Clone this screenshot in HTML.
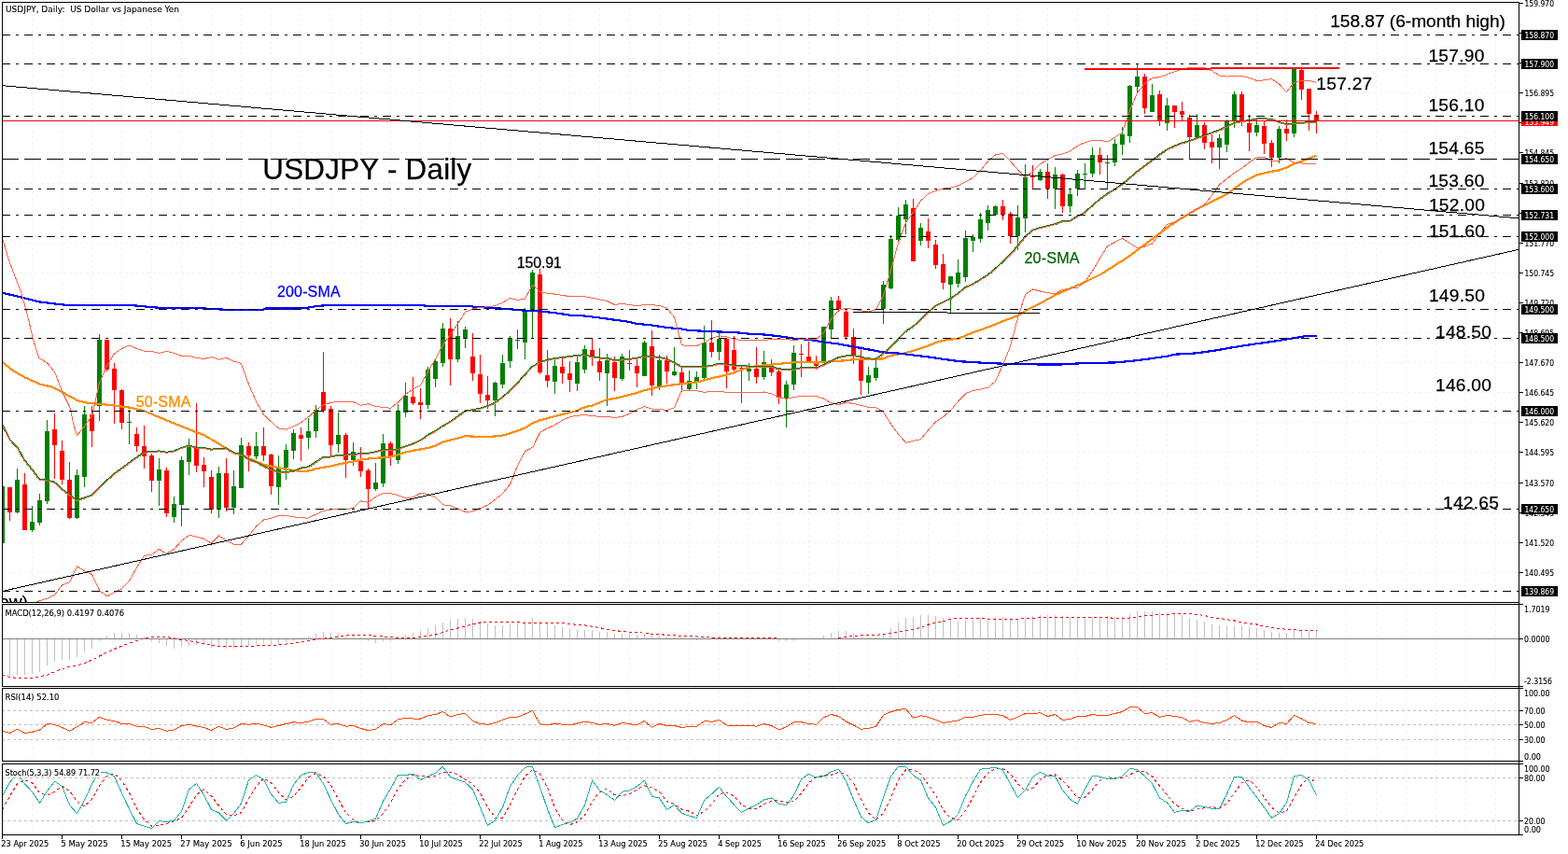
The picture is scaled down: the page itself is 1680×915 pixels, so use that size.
<!DOCTYPE html>
<html lang="en"><head><meta charset="utf-8"><title>USDJPY Daily</title>
<style>html,body{margin:0;padding:0;background:#fff}body{width:1680px;height:915px;overflow:hidden}svg text{white-space:pre}</style>
</head><body>
<svg width="1680" height="915" viewBox="0 0 1680 915" style="display:block">
<defs>
<clipPath id="cm"><rect x="3" y="3" width="1624" height="642"/></clipPath>
<clipPath id="c1"><rect x="3" y="648" width="1624" height="87"/></clipPath>
<clipPath id="c2"><rect x="3" y="738" width="1624" height="77"/></clipPath>
<clipPath id="c3"><rect x="3" y="819" width="1624" height="75"/></clipPath>
</defs>
<rect width="1680" height="915" fill="#fff"/>
<g stroke="#f2f2f2" stroke-width="1" stroke-dasharray="3 3" shape-rendering="crispEdges" fill="none">
<line x1="34.5" y1="3" x2="34.5" y2="645" stroke-dashoffset="1"/>
<line x1="34.5" y1="648" x2="34.5" y2="735" stroke-dashoffset="4"/>
<line x1="34.5" y1="738" x2="34.5" y2="815" stroke-dashoffset="4"/>
<line x1="34.5" y1="819" x2="34.5" y2="894" stroke-dashoffset="1"/>
<line x1="66.5" y1="3" x2="66.5" y2="645" stroke-dashoffset="1"/>
<line x1="66.5" y1="648" x2="66.5" y2="735" stroke-dashoffset="4"/>
<line x1="66.5" y1="738" x2="66.5" y2="815" stroke-dashoffset="4"/>
<line x1="66.5" y1="819" x2="66.5" y2="894" stroke-dashoffset="1"/>
<line x1="98.5" y1="3" x2="98.5" y2="645" stroke-dashoffset="1"/>
<line x1="98.5" y1="648" x2="98.5" y2="735" stroke-dashoffset="4"/>
<line x1="98.5" y1="738" x2="98.5" y2="815" stroke-dashoffset="4"/>
<line x1="98.5" y1="819" x2="98.5" y2="894" stroke-dashoffset="1"/>
<line x1="130.5" y1="3" x2="130.5" y2="645" stroke-dashoffset="1"/>
<line x1="130.5" y1="648" x2="130.5" y2="735" stroke-dashoffset="4"/>
<line x1="130.5" y1="738" x2="130.5" y2="815" stroke-dashoffset="4"/>
<line x1="130.5" y1="819" x2="130.5" y2="894" stroke-dashoffset="1"/>
<line x1="162.5" y1="3" x2="162.5" y2="645" stroke-dashoffset="1"/>
<line x1="162.5" y1="648" x2="162.5" y2="735" stroke-dashoffset="4"/>
<line x1="162.5" y1="738" x2="162.5" y2="815" stroke-dashoffset="4"/>
<line x1="162.5" y1="819" x2="162.5" y2="894" stroke-dashoffset="1"/>
<line x1="194.5" y1="3" x2="194.5" y2="645" stroke-dashoffset="1"/>
<line x1="194.5" y1="648" x2="194.5" y2="735" stroke-dashoffset="4"/>
<line x1="194.5" y1="738" x2="194.5" y2="815" stroke-dashoffset="4"/>
<line x1="194.5" y1="819" x2="194.5" y2="894" stroke-dashoffset="1"/>
<line x1="226.5" y1="3" x2="226.5" y2="645" stroke-dashoffset="1"/>
<line x1="226.5" y1="648" x2="226.5" y2="735" stroke-dashoffset="4"/>
<line x1="226.5" y1="738" x2="226.5" y2="815" stroke-dashoffset="4"/>
<line x1="226.5" y1="819" x2="226.5" y2="894" stroke-dashoffset="1"/>
<line x1="258.5" y1="3" x2="258.5" y2="645" stroke-dashoffset="1"/>
<line x1="258.5" y1="648" x2="258.5" y2="735" stroke-dashoffset="4"/>
<line x1="258.5" y1="738" x2="258.5" y2="815" stroke-dashoffset="4"/>
<line x1="258.5" y1="819" x2="258.5" y2="894" stroke-dashoffset="1"/>
<line x1="290.5" y1="3" x2="290.5" y2="645" stroke-dashoffset="1"/>
<line x1="290.5" y1="648" x2="290.5" y2="735" stroke-dashoffset="4"/>
<line x1="290.5" y1="738" x2="290.5" y2="815" stroke-dashoffset="4"/>
<line x1="290.5" y1="819" x2="290.5" y2="894" stroke-dashoffset="1"/>
<line x1="322.5" y1="3" x2="322.5" y2="645" stroke-dashoffset="1"/>
<line x1="322.5" y1="648" x2="322.5" y2="735" stroke-dashoffset="4"/>
<line x1="322.5" y1="738" x2="322.5" y2="815" stroke-dashoffset="4"/>
<line x1="322.5" y1="819" x2="322.5" y2="894" stroke-dashoffset="1"/>
<line x1="354.5" y1="3" x2="354.5" y2="645" stroke-dashoffset="1"/>
<line x1="354.5" y1="648" x2="354.5" y2="735" stroke-dashoffset="4"/>
<line x1="354.5" y1="738" x2="354.5" y2="815" stroke-dashoffset="4"/>
<line x1="354.5" y1="819" x2="354.5" y2="894" stroke-dashoffset="1"/>
<line x1="386.5" y1="3" x2="386.5" y2="645" stroke-dashoffset="1"/>
<line x1="386.5" y1="648" x2="386.5" y2="735" stroke-dashoffset="4"/>
<line x1="386.5" y1="738" x2="386.5" y2="815" stroke-dashoffset="4"/>
<line x1="386.5" y1="819" x2="386.5" y2="894" stroke-dashoffset="1"/>
<line x1="418.5" y1="3" x2="418.5" y2="645" stroke-dashoffset="1"/>
<line x1="418.5" y1="648" x2="418.5" y2="735" stroke-dashoffset="4"/>
<line x1="418.5" y1="738" x2="418.5" y2="815" stroke-dashoffset="4"/>
<line x1="418.5" y1="819" x2="418.5" y2="894" stroke-dashoffset="1"/>
<line x1="450.5" y1="3" x2="450.5" y2="645" stroke-dashoffset="1"/>
<line x1="450.5" y1="648" x2="450.5" y2="735" stroke-dashoffset="4"/>
<line x1="450.5" y1="738" x2="450.5" y2="815" stroke-dashoffset="4"/>
<line x1="450.5" y1="819" x2="450.5" y2="894" stroke-dashoffset="1"/>
<line x1="482.5" y1="3" x2="482.5" y2="645" stroke-dashoffset="1"/>
<line x1="482.5" y1="648" x2="482.5" y2="735" stroke-dashoffset="4"/>
<line x1="482.5" y1="738" x2="482.5" y2="815" stroke-dashoffset="4"/>
<line x1="482.5" y1="819" x2="482.5" y2="894" stroke-dashoffset="1"/>
<line x1="514.5" y1="3" x2="514.5" y2="645" stroke-dashoffset="1"/>
<line x1="514.5" y1="648" x2="514.5" y2="735" stroke-dashoffset="4"/>
<line x1="514.5" y1="738" x2="514.5" y2="815" stroke-dashoffset="4"/>
<line x1="514.5" y1="819" x2="514.5" y2="894" stroke-dashoffset="1"/>
<line x1="546.5" y1="3" x2="546.5" y2="645" stroke-dashoffset="1"/>
<line x1="546.5" y1="648" x2="546.5" y2="735" stroke-dashoffset="4"/>
<line x1="546.5" y1="738" x2="546.5" y2="815" stroke-dashoffset="4"/>
<line x1="546.5" y1="819" x2="546.5" y2="894" stroke-dashoffset="1"/>
<line x1="578.5" y1="3" x2="578.5" y2="645" stroke-dashoffset="1"/>
<line x1="578.5" y1="648" x2="578.5" y2="735" stroke-dashoffset="4"/>
<line x1="578.5" y1="738" x2="578.5" y2="815" stroke-dashoffset="4"/>
<line x1="578.5" y1="819" x2="578.5" y2="894" stroke-dashoffset="1"/>
<line x1="610.5" y1="3" x2="610.5" y2="645" stroke-dashoffset="1"/>
<line x1="610.5" y1="648" x2="610.5" y2="735" stroke-dashoffset="4"/>
<line x1="610.5" y1="738" x2="610.5" y2="815" stroke-dashoffset="4"/>
<line x1="610.5" y1="819" x2="610.5" y2="894" stroke-dashoffset="1"/>
<line x1="642.5" y1="3" x2="642.5" y2="645" stroke-dashoffset="1"/>
<line x1="642.5" y1="648" x2="642.5" y2="735" stroke-dashoffset="4"/>
<line x1="642.5" y1="738" x2="642.5" y2="815" stroke-dashoffset="4"/>
<line x1="642.5" y1="819" x2="642.5" y2="894" stroke-dashoffset="1"/>
<line x1="674.5" y1="3" x2="674.5" y2="645" stroke-dashoffset="1"/>
<line x1="674.5" y1="648" x2="674.5" y2="735" stroke-dashoffset="4"/>
<line x1="674.5" y1="738" x2="674.5" y2="815" stroke-dashoffset="4"/>
<line x1="674.5" y1="819" x2="674.5" y2="894" stroke-dashoffset="1"/>
<line x1="706.5" y1="3" x2="706.5" y2="645" stroke-dashoffset="1"/>
<line x1="706.5" y1="648" x2="706.5" y2="735" stroke-dashoffset="4"/>
<line x1="706.5" y1="738" x2="706.5" y2="815" stroke-dashoffset="4"/>
<line x1="706.5" y1="819" x2="706.5" y2="894" stroke-dashoffset="1"/>
<line x1="738.5" y1="3" x2="738.5" y2="645" stroke-dashoffset="1"/>
<line x1="738.5" y1="648" x2="738.5" y2="735" stroke-dashoffset="4"/>
<line x1="738.5" y1="738" x2="738.5" y2="815" stroke-dashoffset="4"/>
<line x1="738.5" y1="819" x2="738.5" y2="894" stroke-dashoffset="1"/>
<line x1="770.5" y1="3" x2="770.5" y2="645" stroke-dashoffset="1"/>
<line x1="770.5" y1="648" x2="770.5" y2="735" stroke-dashoffset="4"/>
<line x1="770.5" y1="738" x2="770.5" y2="815" stroke-dashoffset="4"/>
<line x1="770.5" y1="819" x2="770.5" y2="894" stroke-dashoffset="1"/>
<line x1="802.5" y1="3" x2="802.5" y2="645" stroke-dashoffset="1"/>
<line x1="802.5" y1="648" x2="802.5" y2="735" stroke-dashoffset="4"/>
<line x1="802.5" y1="738" x2="802.5" y2="815" stroke-dashoffset="4"/>
<line x1="802.5" y1="819" x2="802.5" y2="894" stroke-dashoffset="1"/>
<line x1="834.5" y1="3" x2="834.5" y2="645" stroke-dashoffset="1"/>
<line x1="834.5" y1="648" x2="834.5" y2="735" stroke-dashoffset="4"/>
<line x1="834.5" y1="738" x2="834.5" y2="815" stroke-dashoffset="4"/>
<line x1="834.5" y1="819" x2="834.5" y2="894" stroke-dashoffset="1"/>
<line x1="866.5" y1="3" x2="866.5" y2="645" stroke-dashoffset="1"/>
<line x1="866.5" y1="648" x2="866.5" y2="735" stroke-dashoffset="4"/>
<line x1="866.5" y1="738" x2="866.5" y2="815" stroke-dashoffset="4"/>
<line x1="866.5" y1="819" x2="866.5" y2="894" stroke-dashoffset="1"/>
<line x1="898.5" y1="3" x2="898.5" y2="645" stroke-dashoffset="1"/>
<line x1="898.5" y1="648" x2="898.5" y2="735" stroke-dashoffset="4"/>
<line x1="898.5" y1="738" x2="898.5" y2="815" stroke-dashoffset="4"/>
<line x1="898.5" y1="819" x2="898.5" y2="894" stroke-dashoffset="1"/>
<line x1="930.5" y1="3" x2="930.5" y2="645" stroke-dashoffset="1"/>
<line x1="930.5" y1="648" x2="930.5" y2="735" stroke-dashoffset="4"/>
<line x1="930.5" y1="738" x2="930.5" y2="815" stroke-dashoffset="4"/>
<line x1="930.5" y1="819" x2="930.5" y2="894" stroke-dashoffset="1"/>
<line x1="962.5" y1="3" x2="962.5" y2="645" stroke-dashoffset="1"/>
<line x1="962.5" y1="648" x2="962.5" y2="735" stroke-dashoffset="4"/>
<line x1="962.5" y1="738" x2="962.5" y2="815" stroke-dashoffset="4"/>
<line x1="962.5" y1="819" x2="962.5" y2="894" stroke-dashoffset="1"/>
<line x1="994.5" y1="3" x2="994.5" y2="645" stroke-dashoffset="1"/>
<line x1="994.5" y1="648" x2="994.5" y2="735" stroke-dashoffset="4"/>
<line x1="994.5" y1="738" x2="994.5" y2="815" stroke-dashoffset="4"/>
<line x1="994.5" y1="819" x2="994.5" y2="894" stroke-dashoffset="1"/>
<line x1="1026.5" y1="3" x2="1026.5" y2="645" stroke-dashoffset="1"/>
<line x1="1026.5" y1="648" x2="1026.5" y2="735" stroke-dashoffset="4"/>
<line x1="1026.5" y1="738" x2="1026.5" y2="815" stroke-dashoffset="4"/>
<line x1="1026.5" y1="819" x2="1026.5" y2="894" stroke-dashoffset="1"/>
<line x1="1058.5" y1="3" x2="1058.5" y2="645" stroke-dashoffset="1"/>
<line x1="1058.5" y1="648" x2="1058.5" y2="735" stroke-dashoffset="4"/>
<line x1="1058.5" y1="738" x2="1058.5" y2="815" stroke-dashoffset="4"/>
<line x1="1058.5" y1="819" x2="1058.5" y2="894" stroke-dashoffset="1"/>
<line x1="1090.5" y1="3" x2="1090.5" y2="645" stroke-dashoffset="1"/>
<line x1="1090.5" y1="648" x2="1090.5" y2="735" stroke-dashoffset="4"/>
<line x1="1090.5" y1="738" x2="1090.5" y2="815" stroke-dashoffset="4"/>
<line x1="1090.5" y1="819" x2="1090.5" y2="894" stroke-dashoffset="1"/>
<line x1="1122.5" y1="3" x2="1122.5" y2="645" stroke-dashoffset="1"/>
<line x1="1122.5" y1="648" x2="1122.5" y2="735" stroke-dashoffset="4"/>
<line x1="1122.5" y1="738" x2="1122.5" y2="815" stroke-dashoffset="4"/>
<line x1="1122.5" y1="819" x2="1122.5" y2="894" stroke-dashoffset="1"/>
<line x1="1154.5" y1="3" x2="1154.5" y2="645" stroke-dashoffset="1"/>
<line x1="1154.5" y1="648" x2="1154.5" y2="735" stroke-dashoffset="4"/>
<line x1="1154.5" y1="738" x2="1154.5" y2="815" stroke-dashoffset="4"/>
<line x1="1154.5" y1="819" x2="1154.5" y2="894" stroke-dashoffset="1"/>
<line x1="1186.5" y1="3" x2="1186.5" y2="645" stroke-dashoffset="1"/>
<line x1="1186.5" y1="648" x2="1186.5" y2="735" stroke-dashoffset="4"/>
<line x1="1186.5" y1="738" x2="1186.5" y2="815" stroke-dashoffset="4"/>
<line x1="1186.5" y1="819" x2="1186.5" y2="894" stroke-dashoffset="1"/>
<line x1="1218.5" y1="3" x2="1218.5" y2="645" stroke-dashoffset="1"/>
<line x1="1218.5" y1="648" x2="1218.5" y2="735" stroke-dashoffset="4"/>
<line x1="1218.5" y1="738" x2="1218.5" y2="815" stroke-dashoffset="4"/>
<line x1="1218.5" y1="819" x2="1218.5" y2="894" stroke-dashoffset="1"/>
<line x1="1250.5" y1="3" x2="1250.5" y2="645" stroke-dashoffset="1"/>
<line x1="1250.5" y1="648" x2="1250.5" y2="735" stroke-dashoffset="4"/>
<line x1="1250.5" y1="738" x2="1250.5" y2="815" stroke-dashoffset="4"/>
<line x1="1250.5" y1="819" x2="1250.5" y2="894" stroke-dashoffset="1"/>
<line x1="1282.5" y1="3" x2="1282.5" y2="645" stroke-dashoffset="1"/>
<line x1="1282.5" y1="648" x2="1282.5" y2="735" stroke-dashoffset="4"/>
<line x1="1282.5" y1="738" x2="1282.5" y2="815" stroke-dashoffset="4"/>
<line x1="1282.5" y1="819" x2="1282.5" y2="894" stroke-dashoffset="1"/>
<line x1="1314.5" y1="3" x2="1314.5" y2="645" stroke-dashoffset="1"/>
<line x1="1314.5" y1="648" x2="1314.5" y2="735" stroke-dashoffset="4"/>
<line x1="1314.5" y1="738" x2="1314.5" y2="815" stroke-dashoffset="4"/>
<line x1="1314.5" y1="819" x2="1314.5" y2="894" stroke-dashoffset="1"/>
<line x1="1346.5" y1="3" x2="1346.5" y2="645" stroke-dashoffset="1"/>
<line x1="1346.5" y1="648" x2="1346.5" y2="735" stroke-dashoffset="4"/>
<line x1="1346.5" y1="738" x2="1346.5" y2="815" stroke-dashoffset="4"/>
<line x1="1346.5" y1="819" x2="1346.5" y2="894" stroke-dashoffset="1"/>
<line x1="1378.5" y1="3" x2="1378.5" y2="645" stroke-dashoffset="1"/>
<line x1="1378.5" y1="648" x2="1378.5" y2="735" stroke-dashoffset="4"/>
<line x1="1378.5" y1="738" x2="1378.5" y2="815" stroke-dashoffset="4"/>
<line x1="1378.5" y1="819" x2="1378.5" y2="894" stroke-dashoffset="1"/>
<line x1="1410.5" y1="3" x2="1410.5" y2="645" stroke-dashoffset="1"/>
<line x1="1410.5" y1="648" x2="1410.5" y2="735" stroke-dashoffset="4"/>
<line x1="1410.5" y1="738" x2="1410.5" y2="815" stroke-dashoffset="4"/>
<line x1="1410.5" y1="819" x2="1410.5" y2="894" stroke-dashoffset="1"/>
<line x1="1442.5" y1="3" x2="1442.5" y2="645" stroke-dashoffset="1"/>
<line x1="1442.5" y1="648" x2="1442.5" y2="735" stroke-dashoffset="4"/>
<line x1="1442.5" y1="738" x2="1442.5" y2="815" stroke-dashoffset="4"/>
<line x1="1442.5" y1="819" x2="1442.5" y2="894" stroke-dashoffset="1"/>
<line x1="1474.5" y1="3" x2="1474.5" y2="645" stroke-dashoffset="1"/>
<line x1="1474.5" y1="648" x2="1474.5" y2="735" stroke-dashoffset="4"/>
<line x1="1474.5" y1="738" x2="1474.5" y2="815" stroke-dashoffset="4"/>
<line x1="1474.5" y1="819" x2="1474.5" y2="894" stroke-dashoffset="1"/>
<line x1="1506.5" y1="3" x2="1506.5" y2="645" stroke-dashoffset="1"/>
<line x1="1506.5" y1="648" x2="1506.5" y2="735" stroke-dashoffset="4"/>
<line x1="1506.5" y1="738" x2="1506.5" y2="815" stroke-dashoffset="4"/>
<line x1="1506.5" y1="819" x2="1506.5" y2="894" stroke-dashoffset="1"/>
<line x1="1538.5" y1="3" x2="1538.5" y2="645" stroke-dashoffset="1"/>
<line x1="1538.5" y1="648" x2="1538.5" y2="735" stroke-dashoffset="4"/>
<line x1="1538.5" y1="738" x2="1538.5" y2="815" stroke-dashoffset="4"/>
<line x1="1538.5" y1="819" x2="1538.5" y2="894" stroke-dashoffset="1"/>
<line x1="1570.5" y1="3" x2="1570.5" y2="645" stroke-dashoffset="1"/>
<line x1="1570.5" y1="648" x2="1570.5" y2="735" stroke-dashoffset="4"/>
<line x1="1570.5" y1="738" x2="1570.5" y2="815" stroke-dashoffset="4"/>
<line x1="1570.5" y1="819" x2="1570.5" y2="894" stroke-dashoffset="1"/>
<line x1="1602.5" y1="3" x2="1602.5" y2="645" stroke-dashoffset="1"/>
<line x1="1602.5" y1="648" x2="1602.5" y2="735" stroke-dashoffset="4"/>
<line x1="1602.5" y1="738" x2="1602.5" y2="815" stroke-dashoffset="4"/>
<line x1="1602.5" y1="819" x2="1602.5" y2="894" stroke-dashoffset="1"/>
<line x1="2" y1="35.5" x2="1627" y2="35.5"/>
<line x1="2" y1="67.5" x2="1627" y2="67.5"/>
<line x1="2" y1="99.5" x2="1627" y2="99.5"/>
<line x1="2" y1="131.5" x2="1627" y2="131.5"/>
<line x1="2" y1="163.5" x2="1627" y2="163.5"/>
<line x1="2" y1="196.5" x2="1627" y2="196.5"/>
<line x1="2" y1="228.5" x2="1627" y2="228.5"/>
<line x1="2" y1="260.5" x2="1627" y2="260.5"/>
<line x1="2" y1="292.5" x2="1627" y2="292.5"/>
<line x1="2" y1="324.5" x2="1627" y2="324.5"/>
<line x1="2" y1="356.5" x2="1627" y2="356.5"/>
<line x1="2" y1="388.5" x2="1627" y2="388.5"/>
<line x1="2" y1="420.5" x2="1627" y2="420.5"/>
<line x1="2" y1="452.5" x2="1627" y2="452.5"/>
<line x1="2" y1="484.5" x2="1627" y2="484.5"/>
<line x1="2" y1="517.5" x2="1627" y2="517.5"/>
<line x1="2" y1="549.5" x2="1627" y2="549.5"/>
<line x1="2" y1="581.5" x2="1627" y2="581.5"/>
<line x1="2" y1="613.5" x2="1627" y2="613.5"/>
</g>
<g clip-path="url(#cm)" shape-rendering="crispEdges">
<rect x="2" y="521" width="1" height="61" fill="#008000"/>
<rect x="0" y="521" width="5" height="61" fill="#008000"/>
<rect x="10" y="522" width="1" height="36" fill="#ff0000"/>
<rect x="8" y="522" width="5" height="27" fill="#ff0000"/>
<rect x="18" y="502" width="1" height="48" fill="#008000"/>
<rect x="16" y="514" width="5" height="35" fill="#008000"/>
<rect x="26" y="507" width="1" height="61" fill="#ff0000"/>
<rect x="24" y="519" width="5" height="49" fill="#ff0000"/>
<rect x="34" y="542" width="1" height="28" fill="#008000"/>
<rect x="32" y="559" width="5" height="9" fill="#008000"/>
<rect x="42" y="529" width="1" height="34" fill="#008000"/>
<rect x="40" y="536" width="5" height="24" fill="#008000"/>
<rect x="50" y="450" width="1" height="90" fill="#008000"/>
<rect x="48" y="462" width="5" height="75" fill="#008000"/>
<rect x="58" y="443" width="1" height="70" fill="#ff0000"/>
<rect x="56" y="460" width="5" height="17" fill="#ff0000"/>
<rect x="66" y="472" width="1" height="47" fill="#ff0000"/>
<rect x="64" y="483" width="5" height="31" fill="#ff0000"/>
<rect x="74" y="495" width="1" height="61" fill="#ff0000"/>
<rect x="72" y="514" width="5" height="41" fill="#ff0000"/>
<rect x="82" y="503" width="1" height="53" fill="#008000"/>
<rect x="80" y="509" width="5" height="46" fill="#008000"/>
<rect x="90" y="435" width="1" height="87" fill="#008000"/>
<rect x="88" y="444" width="5" height="67" fill="#008000"/>
<rect x="98" y="435" width="1" height="44" fill="#ff0000"/>
<rect x="96" y="444" width="5" height="18" fill="#ff0000"/>
<rect x="106" y="358" width="1" height="93" fill="#008000"/>
<rect x="104" y="364" width="5" height="71" fill="#008000"/>
<rect x="114" y="364" width="1" height="34" fill="#ff0000"/>
<rect x="112" y="364" width="5" height="32" fill="#ff0000"/>
<rect x="122" y="389" width="1" height="65" fill="#ff0000"/>
<rect x="120" y="395" width="5" height="23" fill="#ff0000"/>
<rect x="130" y="417" width="1" height="43" fill="#ff0000"/>
<rect x="128" y="418" width="5" height="35" fill="#ff0000"/>
<rect x="138" y="439" width="1" height="37" fill="#008000"/>
<rect x="136" y="452" width="5" height="1" fill="#008000"/>
<rect x="146" y="458" width="1" height="26" fill="#ff0000"/>
<rect x="144" y="465" width="5" height="13" fill="#ff0000"/>
<rect x="154" y="456" width="1" height="46" fill="#ff0000"/>
<rect x="152" y="478" width="5" height="11" fill="#ff0000"/>
<rect x="162" y="486" width="1" height="41" fill="#ff0000"/>
<rect x="160" y="488" width="5" height="27" fill="#ff0000"/>
<rect x="170" y="491" width="1" height="51" fill="#008000"/>
<rect x="168" y="503" width="5" height="12" fill="#008000"/>
<rect x="178" y="501" width="1" height="53" fill="#ff0000"/>
<rect x="176" y="504" width="5" height="46" fill="#ff0000"/>
<rect x="186" y="532" width="1" height="28" fill="#008000"/>
<rect x="184" y="540" width="5" height="14" fill="#008000"/>
<rect x="194" y="489" width="1" height="75" fill="#008000"/>
<rect x="192" y="493" width="5" height="48" fill="#008000"/>
<rect x="202" y="470" width="1" height="39" fill="#008000"/>
<rect x="200" y="477" width="5" height="18" fill="#008000"/>
<rect x="210" y="432" width="1" height="74" fill="#ff0000"/>
<rect x="208" y="480" width="5" height="19" fill="#ff0000"/>
<rect x="218" y="490" width="1" height="32" fill="#ff0000"/>
<rect x="216" y="498" width="5" height="7" fill="#ff0000"/>
<rect x="226" y="504" width="1" height="46" fill="#ff0000"/>
<rect x="224" y="511" width="5" height="35" fill="#ff0000"/>
<rect x="234" y="500" width="1" height="55" fill="#008000"/>
<rect x="232" y="507" width="5" height="39" fill="#008000"/>
<rect x="242" y="491" width="1" height="57" fill="#ff0000"/>
<rect x="240" y="507" width="5" height="37" fill="#ff0000"/>
<rect x="250" y="504" width="1" height="47" fill="#008000"/>
<rect x="248" y="521" width="5" height="23" fill="#008000"/>
<rect x="258" y="469" width="1" height="54" fill="#008000"/>
<rect x="256" y="477" width="5" height="46" fill="#008000"/>
<rect x="266" y="474" width="1" height="31" fill="#ff0000"/>
<rect x="264" y="478" width="5" height="10" fill="#ff0000"/>
<rect x="274" y="463" width="1" height="29" fill="#008000"/>
<rect x="272" y="478" width="5" height="11" fill="#008000"/>
<rect x="282" y="458" width="1" height="36" fill="#ff0000"/>
<rect x="280" y="478" width="5" height="10" fill="#ff0000"/>
<rect x="290" y="486" width="1" height="44" fill="#ff0000"/>
<rect x="288" y="487" width="5" height="34" fill="#ff0000"/>
<rect x="298" y="488" width="1" height="53" fill="#008000"/>
<rect x="296" y="501" width="5" height="21" fill="#008000"/>
<rect x="306" y="476" width="1" height="38" fill="#008000"/>
<rect x="304" y="482" width="5" height="19" fill="#008000"/>
<rect x="314" y="460" width="1" height="32" fill="#008000"/>
<rect x="312" y="464" width="5" height="19" fill="#008000"/>
<rect x="322" y="458" width="1" height="36" fill="#ff0000"/>
<rect x="320" y="466" width="5" height="4" fill="#ff0000"/>
<rect x="330" y="448" width="1" height="33" fill="#008000"/>
<rect x="328" y="462" width="5" height="7" fill="#008000"/>
<rect x="338" y="434" width="1" height="35" fill="#008000"/>
<rect x="336" y="439" width="5" height="23" fill="#008000"/>
<rect x="346" y="377" width="1" height="65" fill="#ff0000"/>
<rect x="344" y="420" width="5" height="20" fill="#ff0000"/>
<rect x="354" y="435" width="1" height="54" fill="#ff0000"/>
<rect x="352" y="438" width="5" height="39" fill="#ff0000"/>
<rect x="362" y="442" width="1" height="43" fill="#008000"/>
<rect x="360" y="466" width="5" height="10" fill="#008000"/>
<rect x="370" y="464" width="1" height="48" fill="#ff0000"/>
<rect x="368" y="466" width="5" height="27" fill="#ff0000"/>
<rect x="378" y="474" width="1" height="25" fill="#008000"/>
<rect x="376" y="484" width="5" height="9" fill="#008000"/>
<rect x="386" y="479" width="1" height="32" fill="#ff0000"/>
<rect x="384" y="494" width="5" height="11" fill="#ff0000"/>
<rect x="394" y="502" width="1" height="43" fill="#ff0000"/>
<rect x="392" y="504" width="5" height="20" fill="#ff0000"/>
<rect x="402" y="496" width="1" height="30" fill="#008000"/>
<rect x="400" y="517" width="5" height="7" fill="#008000"/>
<rect x="410" y="465" width="1" height="57" fill="#008000"/>
<rect x="408" y="475" width="5" height="43" fill="#008000"/>
<rect x="418" y="473" width="1" height="26" fill="#ff0000"/>
<rect x="416" y="475" width="5" height="15" fill="#ff0000"/>
<rect x="426" y="433" width="1" height="64" fill="#008000"/>
<rect x="424" y="440" width="5" height="53" fill="#008000"/>
<rect x="434" y="410" width="1" height="37" fill="#008000"/>
<rect x="432" y="424" width="5" height="18" fill="#008000"/>
<rect x="442" y="404" width="1" height="30" fill="#ff0000"/>
<rect x="440" y="425" width="5" height="7" fill="#ff0000"/>
<rect x="450" y="416" width="1" height="33" fill="#ff0000"/>
<rect x="448" y="431" width="5" height="3" fill="#ff0000"/>
<rect x="458" y="393" width="1" height="45" fill="#008000"/>
<rect x="456" y="396" width="5" height="38" fill="#008000"/>
<rect x="466" y="384" width="1" height="31" fill="#008000"/>
<rect x="464" y="387" width="5" height="19" fill="#008000"/>
<rect x="474" y="346" width="1" height="47" fill="#008000"/>
<rect x="472" y="352" width="5" height="37" fill="#008000"/>
<rect x="482" y="341" width="1" height="72" fill="#ff0000"/>
<rect x="480" y="352" width="5" height="33" fill="#ff0000"/>
<rect x="490" y="344" width="1" height="44" fill="#008000"/>
<rect x="488" y="360" width="5" height="25" fill="#008000"/>
<rect x="498" y="350" width="1" height="23" fill="#008000"/>
<rect x="496" y="353" width="5" height="10" fill="#008000"/>
<rect x="506" y="357" width="1" height="51" fill="#ff0000"/>
<rect x="504" y="382" width="5" height="18" fill="#ff0000"/>
<rect x="514" y="380" width="1" height="52" fill="#ff0000"/>
<rect x="512" y="401" width="5" height="21" fill="#ff0000"/>
<rect x="522" y="403" width="1" height="35" fill="#ff0000"/>
<rect x="520" y="423" width="5" height="6" fill="#ff0000"/>
<rect x="530" y="409" width="1" height="37" fill="#008000"/>
<rect x="528" y="410" width="5" height="19" fill="#008000"/>
<rect x="538" y="380" width="1" height="36" fill="#008000"/>
<rect x="536" y="389" width="5" height="23" fill="#008000"/>
<rect x="546" y="360" width="1" height="34" fill="#008000"/>
<rect x="544" y="362" width="5" height="25" fill="#008000"/>
<rect x="554" y="353" width="1" height="21" fill="#008000"/>
<rect x="552" y="364" width="5" height="1" fill="#008000"/>
<rect x="562" y="330" width="1" height="55" fill="#008000"/>
<rect x="560" y="333" width="5" height="34" fill="#008000"/>
<rect x="570" y="289" width="1" height="73" fill="#008000"/>
<rect x="568" y="292" width="5" height="40" fill="#008000"/>
<rect x="578" y="288" width="1" height="113" fill="#ff0000"/>
<rect x="576" y="294" width="5" height="105" fill="#ff0000"/>
<rect x="586" y="375" width="1" height="40" fill="#ff0000"/>
<rect x="584" y="402" width="5" height="6" fill="#ff0000"/>
<rect x="594" y="385" width="1" height="37" fill="#008000"/>
<rect x="592" y="392" width="5" height="17" fill="#008000"/>
<rect x="602" y="384" width="1" height="27" fill="#ff0000"/>
<rect x="600" y="393" width="5" height="7" fill="#ff0000"/>
<rect x="610" y="387" width="1" height="33" fill="#ff0000"/>
<rect x="608" y="400" width="5" height="7" fill="#ff0000"/>
<rect x="618" y="382" width="1" height="37" fill="#008000"/>
<rect x="616" y="388" width="5" height="23" fill="#008000"/>
<rect x="626" y="370" width="1" height="30" fill="#008000"/>
<rect x="624" y="374" width="5" height="22" fill="#008000"/>
<rect x="634" y="363" width="1" height="29" fill="#ff0000"/>
<rect x="632" y="375" width="5" height="7" fill="#ff0000"/>
<rect x="642" y="373" width="1" height="35" fill="#ff0000"/>
<rect x="640" y="387" width="5" height="12" fill="#ff0000"/>
<rect x="650" y="379" width="1" height="56" fill="#008000"/>
<rect x="648" y="386" width="5" height="14" fill="#008000"/>
<rect x="658" y="382" width="1" height="37" fill="#ff0000"/>
<rect x="656" y="388" width="5" height="17" fill="#ff0000"/>
<rect x="666" y="379" width="1" height="29" fill="#008000"/>
<rect x="664" y="382" width="5" height="24" fill="#008000"/>
<rect x="674" y="375" width="1" height="22" fill="#ff0000"/>
<rect x="672" y="389" width="5" height="1" fill="#ff0000"/>
<rect x="682" y="385" width="1" height="30" fill="#ff0000"/>
<rect x="680" y="392" width="5" height="8" fill="#ff0000"/>
<rect x="690" y="365" width="1" height="38" fill="#008000"/>
<rect x="688" y="367" width="5" height="36" fill="#008000"/>
<rect x="698" y="354" width="1" height="70" fill="#ff0000"/>
<rect x="696" y="371" width="5" height="42" fill="#ff0000"/>
<rect x="706" y="380" width="1" height="38" fill="#008000"/>
<rect x="704" y="386" width="5" height="29" fill="#008000"/>
<rect x="714" y="381" width="1" height="30" fill="#ff0000"/>
<rect x="712" y="386" width="5" height="12" fill="#ff0000"/>
<rect x="722" y="372" width="1" height="31" fill="#008000"/>
<rect x="720" y="398" width="5" height="4" fill="#008000"/>
<rect x="730" y="394" width="1" height="26" fill="#ff0000"/>
<rect x="728" y="399" width="5" height="11" fill="#ff0000"/>
<rect x="738" y="397" width="1" height="21" fill="#008000"/>
<rect x="736" y="408" width="5" height="9" fill="#008000"/>
<rect x="746" y="398" width="1" height="19" fill="#008000"/>
<rect x="744" y="404" width="5" height="5" fill="#008000"/>
<rect x="754" y="349" width="1" height="57" fill="#008000"/>
<rect x="752" y="367" width="5" height="38" fill="#008000"/>
<rect x="762" y="343" width="1" height="40" fill="#ff0000"/>
<rect x="760" y="367" width="5" height="10" fill="#ff0000"/>
<rect x="770" y="354" width="1" height="32" fill="#008000"/>
<rect x="768" y="363" width="5" height="14" fill="#008000"/>
<rect x="778" y="363" width="1" height="53" fill="#ff0000"/>
<rect x="776" y="363" width="5" height="35" fill="#ff0000"/>
<rect x="786" y="360" width="1" height="38" fill="#ff0000"/>
<rect x="784" y="375" width="5" height="21" fill="#ff0000"/>
<rect x="794" y="393" width="1" height="39" fill="#ff0000"/>
<rect x="792" y="394" width="5" height="1" fill="#ff0000"/>
<rect x="802" y="389" width="1" height="19" fill="#008000"/>
<rect x="800" y="395" width="5" height="3" fill="#008000"/>
<rect x="810" y="372" width="1" height="39" fill="#ff0000"/>
<rect x="808" y="395" width="5" height="9" fill="#ff0000"/>
<rect x="818" y="376" width="1" height="31" fill="#008000"/>
<rect x="816" y="388" width="5" height="16" fill="#008000"/>
<rect x="826" y="385" width="1" height="18" fill="#ff0000"/>
<rect x="824" y="392" width="5" height="7" fill="#ff0000"/>
<rect x="834" y="395" width="1" height="38" fill="#ff0000"/>
<rect x="832" y="398" width="5" height="28" fill="#ff0000"/>
<rect x="842" y="408" width="1" height="50" fill="#008000"/>
<rect x="840" y="412" width="5" height="15" fill="#008000"/>
<rect x="850" y="370" width="1" height="48" fill="#008000"/>
<rect x="848" y="378" width="5" height="34" fill="#008000"/>
<rect x="858" y="369" width="1" height="35" fill="#ff0000"/>
<rect x="856" y="379" width="5" height="1" fill="#ff0000"/>
<rect x="866" y="366" width="1" height="22" fill="#ff0000"/>
<rect x="864" y="382" width="5" height="6" fill="#ff0000"/>
<rect x="874" y="381" width="1" height="15" fill="#ff0000"/>
<rect x="872" y="390" width="5" height="2" fill="#ff0000"/>
<rect x="882" y="350" width="1" height="38" fill="#008000"/>
<rect x="880" y="350" width="5" height="38" fill="#008000"/>
<rect x="890" y="318" width="1" height="44" fill="#008000"/>
<rect x="888" y="322" width="5" height="31" fill="#008000"/>
<rect x="898" y="317" width="1" height="17" fill="#ff0000"/>
<rect x="896" y="322" width="5" height="9" fill="#ff0000"/>
<rect x="906" y="331" width="1" height="33" fill="#ff0000"/>
<rect x="904" y="334" width="5" height="27" fill="#ff0000"/>
<rect x="914" y="352" width="1" height="38" fill="#ff0000"/>
<rect x="912" y="361" width="5" height="20" fill="#ff0000"/>
<rect x="922" y="371" width="1" height="52" fill="#ff0000"/>
<rect x="920" y="384" width="5" height="24" fill="#ff0000"/>
<rect x="930" y="393" width="1" height="29" fill="#008000"/>
<rect x="928" y="402" width="5" height="8" fill="#008000"/>
<rect x="938" y="386" width="1" height="22" fill="#008000"/>
<rect x="936" y="394" width="5" height="11" fill="#008000"/>
<rect x="946" y="301" width="1" height="46" fill="#008000"/>
<rect x="944" y="305" width="5" height="26" fill="#008000"/>
<rect x="954" y="252" width="1" height="58" fill="#008000"/>
<rect x="952" y="256" width="5" height="53" fill="#008000"/>
<rect x="962" y="222" width="1" height="40" fill="#008000"/>
<rect x="960" y="231" width="5" height="26" fill="#008000"/>
<rect x="970" y="214" width="1" height="37" fill="#008000"/>
<rect x="968" y="219" width="5" height="16" fill="#008000"/>
<rect x="978" y="213" width="1" height="67" fill="#ff0000"/>
<rect x="976" y="223" width="5" height="57" fill="#ff0000"/>
<rect x="986" y="239" width="1" height="24" fill="#008000"/>
<rect x="984" y="244" width="5" height="14" fill="#008000"/>
<rect x="994" y="234" width="1" height="32" fill="#ff0000"/>
<rect x="992" y="248" width="5" height="10" fill="#ff0000"/>
<rect x="1002" y="257" width="1" height="31" fill="#ff0000"/>
<rect x="1000" y="262" width="5" height="22" fill="#ff0000"/>
<rect x="1010" y="272" width="1" height="38" fill="#ff0000"/>
<rect x="1008" y="283" width="5" height="20" fill="#ff0000"/>
<rect x="1018" y="296" width="1" height="39" fill="#008000"/>
<rect x="1016" y="296" width="5" height="9" fill="#008000"/>
<rect x="1026" y="278" width="1" height="30" fill="#008000"/>
<rect x="1024" y="292" width="5" height="12" fill="#008000"/>
<rect x="1034" y="247" width="1" height="55" fill="#008000"/>
<rect x="1032" y="255" width="5" height="42" fill="#008000"/>
<rect x="1042" y="251" width="1" height="19" fill="#008000"/>
<rect x="1040" y="254" width="5" height="4" fill="#008000"/>
<rect x="1050" y="228" width="1" height="32" fill="#008000"/>
<rect x="1048" y="235" width="5" height="21" fill="#008000"/>
<rect x="1058" y="220" width="1" height="27" fill="#008000"/>
<rect x="1056" y="225" width="5" height="14" fill="#008000"/>
<rect x="1066" y="220" width="1" height="10" fill="#008000"/>
<rect x="1064" y="221" width="5" height="9" fill="#008000"/>
<rect x="1074" y="214" width="1" height="22" fill="#ff0000"/>
<rect x="1072" y="221" width="5" height="9" fill="#ff0000"/>
<rect x="1082" y="227" width="1" height="34" fill="#ff0000"/>
<rect x="1080" y="229" width="5" height="24" fill="#ff0000"/>
<rect x="1090" y="220" width="1" height="48" fill="#008000"/>
<rect x="1088" y="233" width="5" height="20" fill="#008000"/>
<rect x="1098" y="176" width="1" height="73" fill="#008000"/>
<rect x="1096" y="190" width="5" height="44" fill="#008000"/>
<rect x="1106" y="177" width="1" height="25" fill="#ff0000"/>
<rect x="1104" y="188" width="5" height="2" fill="#ff0000"/>
<rect x="1114" y="181" width="1" height="13" fill="#008000"/>
<rect x="1112" y="184" width="5" height="9" fill="#008000"/>
<rect x="1122" y="175" width="1" height="38" fill="#ff0000"/>
<rect x="1120" y="184" width="5" height="18" fill="#ff0000"/>
<rect x="1130" y="179" width="1" height="45" fill="#008000"/>
<rect x="1128" y="187" width="5" height="15" fill="#008000"/>
<rect x="1138" y="186" width="1" height="42" fill="#ff0000"/>
<rect x="1136" y="187" width="5" height="34" fill="#ff0000"/>
<rect x="1146" y="202" width="1" height="26" fill="#008000"/>
<rect x="1144" y="208" width="5" height="13" fill="#008000"/>
<rect x="1154" y="182" width="1" height="28" fill="#008000"/>
<rect x="1152" y="186" width="5" height="16" fill="#008000"/>
<rect x="1162" y="175" width="1" height="27" fill="#008000"/>
<rect x="1160" y="186" width="5" height="1" fill="#008000"/>
<rect x="1170" y="158" width="1" height="32" fill="#008000"/>
<rect x="1168" y="166" width="5" height="20" fill="#008000"/>
<rect x="1178" y="158" width="1" height="29" fill="#ff0000"/>
<rect x="1176" y="166" width="5" height="8" fill="#ff0000"/>
<rect x="1186" y="166" width="1" height="36" fill="#008000"/>
<rect x="1184" y="174" width="5" height="1" fill="#008000"/>
<rect x="1194" y="149" width="1" height="29" fill="#008000"/>
<rect x="1192" y="154" width="5" height="20" fill="#008000"/>
<rect x="1202" y="136" width="1" height="30" fill="#008000"/>
<rect x="1200" y="144" width="5" height="11" fill="#008000"/>
<rect x="1210" y="91" width="1" height="62" fill="#008000"/>
<rect x="1208" y="92" width="5" height="54" fill="#008000"/>
<rect x="1218" y="68" width="1" height="33" fill="#008000"/>
<rect x="1216" y="82" width="5" height="11" fill="#008000"/>
<rect x="1226" y="79" width="1" height="43" fill="#ff0000"/>
<rect x="1224" y="82" width="5" height="34" fill="#ff0000"/>
<rect x="1234" y="90" width="1" height="30" fill="#008000"/>
<rect x="1232" y="102" width="5" height="18" fill="#008000"/>
<rect x="1242" y="97" width="1" height="38" fill="#ff0000"/>
<rect x="1240" y="101" width="5" height="28" fill="#ff0000"/>
<rect x="1250" y="105" width="1" height="35" fill="#008000"/>
<rect x="1248" y="113" width="5" height="19" fill="#008000"/>
<rect x="1258" y="113" width="1" height="24" fill="#ff0000"/>
<rect x="1256" y="113" width="5" height="7" fill="#ff0000"/>
<rect x="1266" y="109" width="1" height="20" fill="#ff0000"/>
<rect x="1264" y="119" width="5" height="4" fill="#ff0000"/>
<rect x="1274" y="123" width="1" height="47" fill="#ff0000"/>
<rect x="1272" y="126" width="5" height="21" fill="#ff0000"/>
<rect x="1282" y="122" width="1" height="26" fill="#008000"/>
<rect x="1280" y="134" width="5" height="13" fill="#008000"/>
<rect x="1290" y="131" width="1" height="29" fill="#ff0000"/>
<rect x="1288" y="134" width="5" height="19" fill="#ff0000"/>
<rect x="1298" y="144" width="1" height="31" fill="#ff0000"/>
<rect x="1296" y="152" width="5" height="6" fill="#ff0000"/>
<rect x="1306" y="144" width="1" height="37" fill="#008000"/>
<rect x="1304" y="148" width="5" height="10" fill="#008000"/>
<rect x="1314" y="128" width="1" height="35" fill="#008000"/>
<rect x="1312" y="130" width="5" height="25" fill="#008000"/>
<rect x="1322" y="98" width="1" height="39" fill="#008000"/>
<rect x="1320" y="101" width="5" height="29" fill="#008000"/>
<rect x="1330" y="98" width="1" height="37" fill="#ff0000"/>
<rect x="1328" y="101" width="5" height="29" fill="#ff0000"/>
<rect x="1338" y="123" width="1" height="39" fill="#ff0000"/>
<rect x="1336" y="132" width="5" height="10" fill="#ff0000"/>
<rect x="1346" y="127" width="1" height="19" fill="#008000"/>
<rect x="1344" y="134" width="5" height="8" fill="#008000"/>
<rect x="1354" y="129" width="1" height="36" fill="#ff0000"/>
<rect x="1352" y="135" width="5" height="19" fill="#ff0000"/>
<rect x="1362" y="150" width="1" height="29" fill="#ff0000"/>
<rect x="1360" y="153" width="5" height="16" fill="#ff0000"/>
<rect x="1370" y="135" width="1" height="40" fill="#008000"/>
<rect x="1368" y="138" width="5" height="31" fill="#008000"/>
<rect x="1378" y="128" width="1" height="23" fill="#ff0000"/>
<rect x="1376" y="138" width="5" height="5" fill="#ff0000"/>
<rect x="1386" y="73" width="1" height="74" fill="#008000"/>
<rect x="1384" y="74" width="5" height="69" fill="#008000"/>
<rect x="1394" y="73" width="1" height="34" fill="#ff0000"/>
<rect x="1392" y="75" width="5" height="21" fill="#ff0000"/>
<rect x="1402" y="95" width="1" height="45" fill="#ff0000"/>
<rect x="1400" y="95" width="5" height="27" fill="#ff0000"/>
<rect x="1410" y="119" width="1" height="24" fill="#ff0000"/>
<rect x="1408" y="123" width="5" height="6" fill="#ff0000"/>
</g>
<g clip-path="url(#cm)" fill="none" stroke-linejoin="round" shape-rendering="crispEdges">
<polyline points="2.5,388.0 13.4,396.8 26.7,404.4 43.5,411.9 55.2,414.4 66.9,420.2 75.2,424.9 83.6,429.4 93.6,431.9 106.5,432.8 122.5,434.5 138.4,436.6 154.5,440.3 170.5,447.0 186.6,453.7 202.4,460.0 218.5,466.2 234.5,475.4 242.4,480.4 250.8,485.4 258.4,487.0 266.5,490.9 274.5,494.5 282.5,497.8 290.6,499.5 298.4,501.2 306.4,502.8 314.5,504.0 322.5,505.0 330.5,504.5 338.5,502.3 346.6,500.7 354.6,499.5 362.4,497.5 370.5,495.8 378.5,494.5 386.5,492.5 394.5,491.5 402.6,490.8 410.4,490.3 418.4,489.5 426.5,487.3 434.5,484.5 442.5,482.8 450.5,481.4 458.6,480.0 466.6,477.4 474.6,473.6 482.6,471.6 490.7,469.5 498.5,467.2 506.5,467.6 514.6,467.9 522.6,467.9 530.6,467.5 538.6,466.5 546.7,464.3 554.6,461.5 562.6,458.4 570.7,453.4 578.7,450.1 586.7,448.1 594.7,445.9 602.8,443.9 610.5,442.0 618.8,439.8 627.2,436.0 634.7,434.4 642.2,431.5 650.6,428.0 658.2,427.2 666.7,425.0 675.0,423.0 683.3,420.7 691.7,417.9 700.0,415.8 708.3,414.4 716.7,412.9 725.0,412.0 730.5,411.1 746.4,409.5 762.5,405.3 778.5,401.6 786.5,399.4 794.4,396.1 802.4,393.6 810.4,392.2 818.5,391.4 834.5,389.9 850.6,388.2 866.6,388.2 874.6,388.6 882.5,388.2 890.5,387.2 898.5,386.9 906.6,386.1 914.4,385.2 922.4,384.7 930.5,384.7 938.5,384.7 946.5,384.4 954.5,381.0 962.4,379.4 970.4,378.2 978.4,376.0 986.5,373.2 994.5,370.5 1002.6,367.1 1015.1,363.9 1026.4,362.9 1040.3,357.1 1057.9,350.8 1075.4,343.8 1090.5,338.2 1100.6,331.9 1115.7,324.4 1130.7,316.1 1145.8,309.3 1163.4,301.8 1181.0,293.0 1198.6,281.7 1208.6,275.4 1223.7,264.1 1238.8,252.8 1253.9,241.5 1269.0,231.9 1284.0,223.1 1299.1,215.6 1307.3,211.5 1314.5,207.9 1322.5,202.1 1330.5,196.2 1338.5,191.4 1346.5,187.5 1354.5,185.4 1362.5,183.8 1370.5,182.4 1378.4,179.5 1386.4,175.7 1394.5,172.9 1402.5,169.5 1410.5,166.7" stroke="#ff8c00" stroke-width="2.2"/>
<polyline points="2.5,313.7 10.0,315.5 22.6,318.5 42.7,323.5 59.1,325.5 75.4,327.3 90.5,326.8 138.2,326.8 155.8,328.5 170.9,329.8 186.0,330.5 203.6,329.8 218.6,330.5 242.5,331.8 281.5,331.8 284.0,330.5 314.2,330.5 329.2,329.8 339.3,328.0 354.4,326.8 420.0,326.8 450.0,326.8 458.4,328.0 505.2,328.0 507.7,329.0 516.9,329.3 547.0,331.3 562.5,332.7 578.6,333.5 594.4,335.2 610.5,337.7 626.5,338.5 642.6,340.5 658.5,342.7 674.5,344.9 682.5,346.9 698.6,348.5 714.5,351.0 730.0,352.4 736.7,353.8 754.4,354.8 770.5,355.5 786.5,356.0 802.4,357.6 818.5,358.5 834.5,360.2 850.6,362.7 866.6,363.8 882.5,366.5 898.5,368.5 914.4,371.5 930.5,374.4 946.5,377.4 962.4,378.5 978.4,380.5 990.0,381.8 1010.1,384.7 1027.7,387.2 1057.9,389.0 1075.4,389.7 1115.7,390.5 1135.8,390.5 1163.4,389.0 1193.6,388.5 1208.6,387.2 1226.2,385.2 1251.4,381.5 1258.9,379.7 1281.5,378.4 1304.2,375.2 1316.7,372.9 1341.8,368.9 1367.0,365.4 1392.1,361.3 1402.2,359.6 1410.5,359.6" stroke="#0000ff" stroke-width="2.2"/>
<polyline points="2.5,455.5 10.5,471.0 18.4,479.2 26.4,493.4 34.4,503.4 42.5,513.8 50.5,514.3 58.3,516.8 66.5,524.3 74.4,530.2 82.4,536.4 90.4,533.5 98.5,530.5 106.5,522.7 114.5,514.8 122.5,507.6 130.6,501.8 138.4,495.9 146.4,490.1 154.5,484.7 162.5,484.2 170.5,483.4 178.5,484.7 186.6,483.4 194.4,480.0 202.4,477.5 210.5,479.7 218.5,480.0 226.5,481.7 234.5,480.9 242.4,480.4 250.4,485.4 258.4,486.7 266.5,492.6 274.5,495.3 282.5,499.5 290.6,503.3 298.4,505.7 306.4,505.7 314.5,505.3 322.5,501.7 330.5,500.3 338.5,495.0 346.6,489.8 354.6,489.5 362.4,487.8 370.5,487.5 378.5,487.3 386.5,485.8 394.5,485.8 402.6,484.1 410.4,482.3 418.4,482.3 426.5,481.1 434.5,478.3 442.5,475.6 450.5,471.9 458.6,466.1 466.6,461.9 474.6,456.5 482.6,451.9 490.7,446.0 498.5,440.5 506.5,439.3 514.6,437.6 522.6,435.1 530.6,431.5 538.6,425.6 546.7,418.2 554.5,410.4 562.5,401.2 570.5,392.8 578.6,388.3 586.6,385.7 594.4,384.0 602.5,383.1 610.5,382.0 618.5,380.8 626.5,380.3 634.6,382.3 642.6,383.6 650.6,384.0 658.5,386.2 666.5,385.3 674.5,385.0 682.5,383.6 690.6,381.6 698.6,382.3 706.6,382.8 714.5,385.0 722.5,388.8 730.5,393.3 738.6,393.3 746.4,393.3 754.4,393.1 762.5,391.9 770.5,389.7 778.5,390.6 786.5,391.6 794.4,391.6 802.4,392.7 810.4,392.7 818.5,392.7 826.5,393.1 834.5,395.3 842.5,396.1 850.6,395.8 858.6,394.1 866.6,393.6 874.6,394.4 882.5,391.1 890.5,386.9 898.5,383.1 906.6,381.4 914.4,381.0 922.4,382.7 930.5,384.4 938.5,384.7 946.5,378.9 954.5,371.5 962.4,363.2 970.4,355.1 978.4,349.8 986.5,342.8 994.5,334.5 1002.4,327.9 1010.4,323.7 1018.4,320.1 1026.5,314.5 1034.5,307.9 1042.5,304.5 1050.5,299.5 1058.6,294.5 1066.6,287.8 1074.4,280.3 1082.5,272.7 1090.5,263.6 1098.5,253.5 1106.5,246.8 1114.6,244.0 1122.6,242.2 1130.6,240.2 1138.5,237.1 1146.5,236.8 1154.5,231.8 1162.5,227.6 1170.6,220.1 1178.6,213.4 1186.6,207.6 1194.5,203.0 1202.5,197.3 1210.5,190.8 1218.6,183.7 1226.6,177.9 1234.4,172.0 1242.5,165.7 1250.5,160.3 1258.5,156.5 1266.5,153.3 1274.6,151.1 1282.6,148.1 1290.6,145.3 1298.5,142.2 1306.5,139.4 1314.5,135.6 1322.5,131.8 1330.6,130.2 1338.6,128.9 1346.6,127.4 1354.5,127.4 1362.5,127.8 1370.5,131.0 1378.4,133.2 1386.4,132.2 1394.5,131.6 1402.5,131.4 1410.5,131.4" stroke="#008000" stroke-width="2"/>
<polyline points="2.5,456.0 10.5,471.5 18.4,479.7 26.4,493.9 34.4,503.9 42.5,514.3 50.5,514.8 58.3,517.3 66.5,524.8 74.4,530.7 82.4,536.9 90.4,534.0 98.5,531.0 106.5,523.2 114.5,515.3 122.5,508.1 130.6,502.3 138.4,496.4 146.4,490.6 154.5,485.2 162.5,484.7 170.5,483.9 178.5,485.2 186.6,483.9 194.4,480.5 202.4,478.0 210.5,480.2 218.5,480.5 226.5,482.2 234.5,481.4 242.4,480.9 250.4,485.9 258.4,487.2 266.5,493.1 274.5,495.8 282.5,500.0 290.6,503.8 298.4,506.2 306.4,506.2 314.5,505.8 322.5,502.2 330.5,500.8 338.5,495.5 346.6,490.3 354.6,490.0 362.4,488.3 370.5,488.0 378.5,487.8 386.5,486.3 394.5,486.3 402.6,484.6 410.4,482.8 418.4,482.8 426.5,481.6 434.5,478.8 442.5,476.1 450.5,472.4 458.6,466.6 466.6,462.4 474.6,457.0 482.6,452.4 490.7,446.5 498.5,441.0 506.5,439.8 514.6,438.1 522.6,435.6 530.6,432.0 538.6,426.1 546.7,418.7 554.5,410.9 562.5,401.7 570.5,393.3 578.6,388.8 586.6,386.2 594.4,384.5 602.5,383.6 610.5,382.5 618.5,381.3 626.5,380.8 634.6,382.8 642.6,384.1 650.6,384.5 658.5,386.7 666.5,385.8 674.5,385.5 682.5,384.1 690.6,382.1 698.6,382.8 706.6,383.3 714.5,385.5 722.5,389.3 730.5,393.8 738.6,393.8 746.4,393.8 754.4,393.6 762.5,392.4 770.5,390.2 778.5,391.1 786.5,392.1 794.4,392.1 802.4,393.2 810.4,393.2 818.5,393.2 826.5,393.6 834.5,395.8 842.5,396.6 850.6,396.3 858.6,394.6 866.6,394.1 874.6,394.9 882.5,391.6 890.5,387.4 898.5,383.6 906.6,381.9 914.4,381.5 922.4,383.2 930.5,384.9 938.5,385.2 946.5,379.4 954.5,372.0 962.4,363.7 970.4,355.6 978.4,350.3 986.5,343.3 994.5,335.0 1002.4,328.4 1010.4,324.2 1018.4,320.6 1026.5,315.0 1034.5,308.4 1042.5,305.0 1050.5,300.0 1058.6,295.0 1066.6,288.3 1074.4,280.8 1082.5,273.2 1090.5,264.1 1098.5,254.0 1106.5,247.3 1114.6,244.5 1122.6,242.7 1130.6,240.7 1138.5,237.6 1146.5,237.3 1154.5,232.3 1162.5,228.1 1170.6,220.6 1178.6,213.9 1186.6,208.1 1194.5,203.5 1202.5,197.8 1210.5,191.3 1218.6,184.2 1226.6,178.4 1234.4,172.5 1242.5,166.2 1250.5,160.8 1258.5,157.0 1266.5,153.8 1274.6,151.6 1282.6,148.6 1290.6,145.8 1298.5,142.7 1306.5,139.9 1314.5,136.1 1322.5,132.3 1330.6,130.7 1338.6,129.4 1346.6,127.9 1354.5,127.9 1362.5,128.3 1370.5,131.5 1378.4,133.7 1386.4,132.7 1394.5,132.1 1402.5,131.9 1410.5,131.9" stroke="#ff6347" stroke-width="1"/>
<polyline points="2.5,255.1 10.0,280.3 22.6,312.9 30.1,340.0 35.4,363.4 41.8,383.8 50.2,388.5 58.5,398.5 66.9,420.2 75.2,437.0 78.6,453.7 82.4,466.5 90.3,457.0 98.6,445.3 106.5,410.2 114.5,391.8 122.5,378.8 130.6,373.4 138.4,370.1 146.4,373.4 154.5,376.3 162.5,376.3 170.5,378.4 178.5,376.3 186.6,378.4 194.4,381.3 202.4,381.3 210.5,383.5 218.5,384.5 226.5,382.6 234.5,385.1 242.4,383.5 250.4,387.1 258.4,389.3 266.5,411.9 274.5,430.1 282.5,444.3 290.6,451.9 298.4,458.9 306.4,460.2 314.5,456.9 322.5,452.7 330.5,446.8 338.5,439.3 346.6,433.5 354.6,431.5 362.4,430.1 370.5,430.1 378.5,430.5 386.5,434.3 394.5,432.6 402.6,435.6 410.4,436.3 418.4,437.3 426.5,431.0 434.5,422.6 442.5,416.7 450.5,412.6 458.6,398.0 466.6,384.5 474.6,369.4 482.4,358.6 490.5,346.9 498.5,334.3 506.5,331.0 514.5,329.3 522.4,328.8 530.4,327.6 538.4,324.3 546.5,319.3 554.5,321.5 562.5,320.1 570.5,305.1 578.6,312.6 586.6,314.3 594.4,315.1 602.5,316.4 610.5,317.6 618.5,317.6 626.5,317.6 634.6,319.3 642.6,321.0 650.6,322.6 658.5,326.5 666.5,325.5 674.5,326.5 682.5,327.6 690.6,326.5 698.6,326.5 706.6,327.6 714.5,330.2 722.5,340.0 730.5,369.8 738.6,370.5 746.4,370.5 754.4,366.8 762.5,362.7 770.5,359.8 778.5,360.7 786.5,363.5 794.4,364.3 802.4,364.3 810.4,364.7 818.5,364.3 826.5,363.8 834.5,363.8 842.5,363.5 850.6,364.8 858.6,363.5 866.6,363.5 874.6,363.5 882.5,356.8 890.5,341.8 898.5,332.6 906.6,330.1 914.4,331.4 922.4,332.6 930.5,334.2 938.5,331.7 946.4,317.0 954.4,290.3 962.4,260.2 970.5,238.5 978.5,227.6 986.5,215.1 994.5,207.6 1002.4,204.3 1010.4,202.1 1018.4,201.1 1026.5,199.0 1034.5,194.7 1042.5,190.5 1050.5,182.7 1058.6,172.6 1066.6,165.9 1074.4,164.3 1082.5,172.6 1090.5,181.8 1098.5,190.0 1106.5,183.6 1114.5,175.8 1122.5,171.0 1130.5,166.5 1138.5,165.0 1146.5,161.9 1154.5,156.2 1162.5,152.7 1170.5,150.3 1178.5,150.3 1186.5,152.0 1194.5,147.2 1202.5,141.8 1210.5,118.5 1218.6,99.3 1226.6,89.3 1234.4,83.7 1242.5,82.6 1250.5,79.7 1258.5,76.7 1266.5,74.2 1274.6,72.5 1282.6,72.5 1290.6,72.5 1298.5,75.9 1306.5,81.0 1314.5,82.1 1322.5,81.3 1330.5,81.3 1338.5,83.4 1346.5,86.4 1354.5,85.9 1362.5,84.6 1370.5,90.1 1378.4,98.5 1386.4,88.4 1394.5,86.8 1402.5,86.3 1410.5,88.4" stroke="#ff6347" stroke-width="1"/>
<polyline points="30.0,652.0 40.2,644.4 50.3,641.4 59.1,636.9 66.6,626.8 74.6,623.8 82.5,606.7 90.5,611.7 98.5,615.5 106.8,633.1 114.9,638.9 123.1,634.3 130.7,630.6 138.2,623.0 146.5,608.0 154.6,595.4 162.6,594.1 170.4,588.4 178.4,593.4 186.5,588.4 194.8,579.1 203.1,573.3 211.1,575.3 218.6,577.3 226.2,582.1 234.5,574.0 242.5,579.1 250.6,583.3 258.4,583.3 266.4,574.0 274.4,564.0 282.7,556.9 290.8,555.2 299.1,552.2 306.6,552.2 314.2,553.9 322.0,554.5 329.2,555.2 338.0,551.4 346.1,547.6 354.4,545.9 362.5,545.9 370.7,545.9 378.2,544.4 386.5,536.8 394.5,538.4 402.6,532.1 410.4,528.7 418.4,528.4 426.5,530.9 434.5,533.4 442.5,532.9 450.5,528.4 458.6,529.5 466.6,532.8 474.5,540.7 482.6,542.0 490.6,545.0 498.4,548.4 506.5,547.9 514.5,544.5 522.5,541.2 530.5,535.3 538.6,528.7 546.6,518.6 554.6,498.6 562.6,483.5 570.7,479.3 578.7,463.1 586.7,458.8 594.7,455.1 602.8,450.1 610.5,446.7 618.5,445.2 626.5,444.6 634.5,445.6 642.5,446.3 650.6,446.4 658.1,447.5 666.5,446.4 674.5,443.2 682.5,438.8 690.4,435.4 698.2,438.1 706.5,438.2 714.5,439.5 722.5,436.9 730.5,417.8 738.6,418.7 746.4,418.7 754.4,420.3 762.5,419.5 770.5,419.5 778.5,420.3 786.5,420.3 794.4,420.0 802.4,420.0 810.4,420.8 818.5,420.0 826.5,421.7 834.5,425.7 842.5,427.4 850.6,425.3 858.6,424.5 866.6,424.5 874.6,424.5 882.5,427.0 890.5,431.7 898.5,433.5 906.6,431.5 914.4,432.3 922.4,434.5 930.5,436.3 938.5,436.8 946.3,441.0 954.5,454.4 962.5,465.2 970.5,474.4 978.5,472.4 986.5,470.7 994.5,461.0 1002.5,451.9 1010.5,446.8 1018.5,439.8 1026.5,430.1 1034.5,421.8 1042.5,418.4 1050.5,417.2 1058.5,415.2 1066.5,408.5 1074.5,391.0 1082.5,370.9 1090.5,340.7 1098.5,315.5 1106.5,310.0 1114.5,312.0 1122.5,313.7 1130.5,314.7 1138.5,310.3 1146.5,309.2 1154.5,308.2 1162.5,302.0 1170.5,290.4 1178.5,276.8 1186.5,263.8 1194.5,259.4 1202.5,255.4 1210.5,260.5 1218.5,265.8 1226.5,264.0 1234.5,261.0 1242.5,250.0 1250.5,240.5 1258.5,238.0 1266.5,233.5 1274.5,228.5 1282.5,224.0 1290.5,219.0 1298.5,209.5 1306.5,197.9 1314.5,191.5 1322.5,185.2 1330.5,180.3 1338.5,174.0 1346.5,168.8 1354.5,168.2 1362.5,172.8 1370.5,172.0 1378.4,169.5 1386.4,174.5 1394.5,175.0 1402.5,175.0 1410.5,175.4" stroke="#ff6347" stroke-width="1"/>
</g>
<g clip-path="url(#cm)" shape-rendering="crispEdges" fill="none" stroke="#000" stroke-width="1">
<line x1="2" y1="37.5" x2="1627" y2="37.5" stroke-dasharray="9 6 3 6"/>
<line x1="2" y1="68.5" x2="1627" y2="68.5" stroke-dasharray="9 6 3 6"/>
<line x1="2" y1="124.5" x2="1627" y2="124.5" stroke-dasharray="9 6 3 6"/>
<line x1="2" y1="202.5" x2="1627" y2="202.5" stroke-dasharray="9 6 3 6"/>
<line x1="2" y1="230.5" x2="1627" y2="230.5" stroke-dasharray="9 6 3 6"/>
<line x1="2" y1="253.5" x2="1627" y2="253.5" stroke-dasharray="9 6 3 6"/>
<line x1="2" y1="331.5" x2="1627" y2="331.5" stroke-dasharray="9 6 3 6"/>
<line x1="2" y1="362.5" x2="1627" y2="362.5" stroke-dasharray="9 6 3 6"/>
<line x1="2" y1="440.5" x2="1627" y2="440.5" stroke-dasharray="9 6 3 6"/>
<line x1="2" y1="545.5" x2="1627" y2="545.5" stroke-dasharray="9 6 3 6"/>
<line x1="2" y1="633.5" x2="1627" y2="633.5" stroke-dasharray="9 6 3 6"/>
<line x1="2" y1="170.5" x2="1627" y2="170.5" stroke-dasharray="18 6"/>
<line x1="2" y1="129.5" x2="1627" y2="129.5" stroke="#ff0000"/>
<line x1="2.5" y1="633.5" x2="1627" y2="267.4"/>
<line x1="2.5" y1="91.7" x2="1627" y2="233.8"/>
<line x1="914" y1="334.5" x2="1114" y2="335.5"/>
<rect x="1162" y="73" width="135" height="2" fill="#ff0000" stroke="none"/>
<rect x="1297" y="72" width="138" height="2" fill="#ff0000" stroke="none"/>
</g>
<g font-family="'Liberation Sans', Arial, sans-serif" fill="#000">
<text x="281.3" y="191.7" font-size="31.4" stroke="#000" stroke-width="0.25" letter-spacing="0.23">USDJPY - Daily</text>
<text x="1425.2" y="29.1" font-size="19.2" stroke="#000" stroke-width="0.25" letter-spacing="-0.05">158.87 (6-month high)</text>
<text x="1530.4" y="65.8" font-size="19.2" stroke="#000" stroke-width="0.25" letter-spacing="0.25">157.90</text>
<text x="1410.3" y="95.6" font-size="19.2" stroke="#000" stroke-width="0.25" letter-spacing="0.25">157.27</text>
<text x="1530.4" y="118.6" font-size="19.2" stroke="#000" stroke-width="0.25" letter-spacing="0.25">156.10</text>
<text x="1530.4" y="165.4" font-size="19.2" stroke="#000" stroke-width="0.25" letter-spacing="0.25">154.65</text>
<text x="1530.4" y="199.8" font-size="19.2" stroke="#000" stroke-width="0.25" letter-spacing="0.25">153.60</text>
<text x="1530.9" y="225.6" font-size="19.2" stroke="#000" stroke-width="0.25" letter-spacing="0.25">152.00</text>
<text x="1530.9" y="253.5" font-size="19.2" stroke="#000" stroke-width="0.25" letter-spacing="0.25">151.60</text>
<text x="1530.9" y="323.4" font-size="19.2" stroke="#000" stroke-width="0.25" letter-spacing="0.25">149.50</text>
<text x="1538.0" y="361.7" font-size="19.2" stroke="#000" stroke-width="0.25" letter-spacing="0.25">148.50</text>
<text x="1538.0" y="419.4" font-size="19.2" stroke="#000" stroke-width="0.25" letter-spacing="0.25">146.00</text>
<text x="1546.0" y="545.1" font-size="19.2" stroke="#000" stroke-width="0.25" letter-spacing="0.25">142.65</text>
<text x="553.8" y="287" font-size="16" stroke="#000" stroke-width="0.25" letter-spacing="-0.2">150.91</text>
<text x="297" y="318" font-size="16" stroke="#0000ff" stroke-width="0.25" fill="#0000ff" letter-spacing="0.15">200-SMA</text>
<text x="145.8" y="436.1" font-size="16" stroke="#ff8c00" stroke-width="0.25" fill="#ff8c00" letter-spacing="0.15">50-SMA</text>
<text x="1097.4" y="282" font-size="16.2" stroke="#006400" stroke-width="0.25" fill="#006400" letter-spacing="0.15">20-SMA</text>
<g clip-path="url(#cm)">
<text x="30.0" y="650.9" font-size="19.2" stroke="#000" stroke-width="0.25" text-anchor="end">139.87 (8-month low)</text>
</g>
</g>
<g clip-path="url(#c1)" shape-rendering="crispEdges" fill="none">
<rect x="10" y="685" width="1" height="40" fill="#c0c0c0"/>
<rect x="18" y="685" width="1" height="38" fill="#c0c0c0"/>
<rect x="26" y="685" width="1" height="38" fill="#c0c0c0"/>
<rect x="34" y="685" width="1" height="37" fill="#c0c0c0"/>
<rect x="42" y="685" width="1" height="35" fill="#c0c0c0"/>
<rect x="50" y="685" width="1" height="28" fill="#c0c0c0"/>
<rect x="58" y="685" width="1" height="24" fill="#c0c0c0"/>
<rect x="66" y="685" width="1" height="22" fill="#c0c0c0"/>
<rect x="74" y="685" width="1" height="22" fill="#c0c0c0"/>
<rect x="82" y="685" width="1" height="19" fill="#c0c0c0"/>
<rect x="90" y="685" width="1" height="14" fill="#c0c0c0"/>
<rect x="98" y="685" width="1" height="10" fill="#c0c0c0"/>
<rect x="106" y="685" width="1" height="2" fill="#c0c0c0"/>
<rect x="114" y="681" width="1" height="3" fill="#c0c0c0"/>
<rect x="122" y="678" width="1" height="6" fill="#c0c0c0"/>
<rect x="130" y="678" width="1" height="6" fill="#c0c0c0"/>
<rect x="138" y="678" width="1" height="6" fill="#c0c0c0"/>
<rect x="146" y="680" width="1" height="4" fill="#c0c0c0"/>
<rect x="154" y="682" width="1" height="2" fill="#c0c0c0"/>
<rect x="162" y="685" width="1" height="2" fill="#c0c0c0"/>
<rect x="170" y="685" width="1" height="4" fill="#c0c0c0"/>
<rect x="178" y="685" width="1" height="7" fill="#c0c0c0"/>
<rect x="186" y="685" width="1" height="10" fill="#c0c0c0"/>
<rect x="194" y="685" width="1" height="8" fill="#c0c0c0"/>
<rect x="202" y="685" width="1" height="7" fill="#c0c0c0"/>
<rect x="210" y="685" width="1" height="6" fill="#c0c0c0"/>
<rect x="218" y="685" width="1" height="6" fill="#c0c0c0"/>
<rect x="226" y="685" width="1" height="9" fill="#c0c0c0"/>
<rect x="234" y="685" width="1" height="8" fill="#c0c0c0"/>
<rect x="242" y="685" width="1" height="10" fill="#c0c0c0"/>
<rect x="250" y="685" width="1" height="10" fill="#c0c0c0"/>
<rect x="258" y="685" width="1" height="8" fill="#c0c0c0"/>
<rect x="266" y="685" width="1" height="7" fill="#c0c0c0"/>
<rect x="274" y="685" width="1" height="5" fill="#c0c0c0"/>
<rect x="282" y="685" width="1" height="4" fill="#c0c0c0"/>
<rect x="290" y="685" width="1" height="6" fill="#c0c0c0"/>
<rect x="298" y="685" width="1" height="6" fill="#c0c0c0"/>
<rect x="306" y="685" width="1" height="3" fill="#c0c0c0"/>
<rect x="314" y="685" width="1" height="2" fill="#c0c0c0"/>
<rect x="322" y="683" width="1" height="1" fill="#c0c0c0"/>
<rect x="330" y="682" width="1" height="2" fill="#c0c0c0"/>
<rect x="338" y="679" width="1" height="5" fill="#c0c0c0"/>
<rect x="346" y="677" width="1" height="7" fill="#c0c0c0"/>
<rect x="354" y="678" width="1" height="6" fill="#c0c0c0"/>
<rect x="362" y="678" width="1" height="6" fill="#c0c0c0"/>
<rect x="370" y="681" width="1" height="3" fill="#c0c0c0"/>
<rect x="378" y="681" width="1" height="3" fill="#c0c0c0"/>
<rect x="386" y="683" width="1" height="1" fill="#c0c0c0"/>
<rect x="394" y="685" width="1" height="2" fill="#c0c0c0"/>
<rect x="402" y="685" width="1" height="4" fill="#c0c0c0"/>
<rect x="410" y="685" width="1" height="2" fill="#c0c0c0"/>
<rect x="418" y="685" width="1" height="2" fill="#c0c0c0"/>
<rect x="426" y="682" width="1" height="2" fill="#c0c0c0"/>
<rect x="434" y="680" width="1" height="4" fill="#c0c0c0"/>
<rect x="442" y="678" width="1" height="6" fill="#c0c0c0"/>
<rect x="450" y="676" width="1" height="8" fill="#c0c0c0"/>
<rect x="458" y="673" width="1" height="11" fill="#c0c0c0"/>
<rect x="466" y="670" width="1" height="14" fill="#c0c0c0"/>
<rect x="474" y="667" width="1" height="17" fill="#c0c0c0"/>
<rect x="482" y="665" width="1" height="19" fill="#c0c0c0"/>
<rect x="490" y="663" width="1" height="21" fill="#c0c0c0"/>
<rect x="498" y="662" width="1" height="22" fill="#c0c0c0"/>
<rect x="506" y="663" width="1" height="21" fill="#c0c0c0"/>
<rect x="514" y="666" width="1" height="18" fill="#c0c0c0"/>
<rect x="522" y="668" width="1" height="16" fill="#c0c0c0"/>
<rect x="530" y="670" width="1" height="14" fill="#c0c0c0"/>
<rect x="538" y="670" width="1" height="14" fill="#c0c0c0"/>
<rect x="546" y="668" width="1" height="16" fill="#c0c0c0"/>
<rect x="554" y="667" width="1" height="17" fill="#c0c0c0"/>
<rect x="562" y="665" width="1" height="19" fill="#c0c0c0"/>
<rect x="570" y="662" width="1" height="22" fill="#c0c0c0"/>
<rect x="578" y="665" width="1" height="19" fill="#c0c0c0"/>
<rect x="586" y="667" width="1" height="17" fill="#c0c0c0"/>
<rect x="594" y="670" width="1" height="14" fill="#c0c0c0"/>
<rect x="602" y="672" width="1" height="12" fill="#c0c0c0"/>
<rect x="610" y="674" width="1" height="10" fill="#c0c0c0"/>
<rect x="618" y="675" width="1" height="9" fill="#c0c0c0"/>
<rect x="626" y="675" width="1" height="9" fill="#c0c0c0"/>
<rect x="634" y="675" width="1" height="9" fill="#c0c0c0"/>
<rect x="642" y="677" width="1" height="7" fill="#c0c0c0"/>
<rect x="650" y="677" width="1" height="7" fill="#c0c0c0"/>
<rect x="658" y="679" width="1" height="5" fill="#c0c0c0"/>
<rect x="666" y="679" width="1" height="5" fill="#c0c0c0"/>
<rect x="674" y="679" width="1" height="5" fill="#c0c0c0"/>
<rect x="682" y="680" width="1" height="4" fill="#c0c0c0"/>
<rect x="690" y="679" width="1" height="5" fill="#c0c0c0"/>
<rect x="698" y="680" width="1" height="4" fill="#c0c0c0"/>
<rect x="706" y="681" width="1" height="3" fill="#c0c0c0"/>
<rect x="714" y="682" width="1" height="2" fill="#c0c0c0"/>
<rect x="722" y="682" width="1" height="2" fill="#c0c0c0"/>
<rect x="730" y="683" width="1" height="1" fill="#c0c0c0"/>
<rect x="746" y="685" width="1" height="1" fill="#c0c0c0"/>
<rect x="754" y="682" width="1" height="2" fill="#c0c0c0"/>
<rect x="762" y="682" width="1" height="2" fill="#c0c0c0"/>
<rect x="770" y="681" width="1" height="3" fill="#c0c0c0"/>
<rect x="778" y="682" width="1" height="2" fill="#c0c0c0"/>
<rect x="786" y="682" width="1" height="2" fill="#c0c0c0"/>
<rect x="794" y="683" width="1" height="1" fill="#c0c0c0"/>
<rect x="802" y="683" width="1" height="1" fill="#c0c0c0"/>
<rect x="834" y="685" width="1" height="2" fill="#c0c0c0"/>
<rect x="842" y="685" width="1" height="2" fill="#c0c0c0"/>
<rect x="850" y="685" width="1" height="2" fill="#c0c0c0"/>
<rect x="882" y="681" width="1" height="3" fill="#c0c0c0"/>
<rect x="890" y="678" width="1" height="6" fill="#c0c0c0"/>
<rect x="898" y="676" width="1" height="8" fill="#c0c0c0"/>
<rect x="906" y="676" width="1" height="8" fill="#c0c0c0"/>
<rect x="914" y="678" width="1" height="6" fill="#c0c0c0"/>
<rect x="922" y="680" width="1" height="4" fill="#c0c0c0"/>
<rect x="930" y="682" width="1" height="2" fill="#c0c0c0"/>
<rect x="938" y="683" width="1" height="1" fill="#c0c0c0"/>
<rect x="946" y="680" width="1" height="4" fill="#c0c0c0"/>
<rect x="954" y="673" width="1" height="11" fill="#c0c0c0"/>
<rect x="962" y="667" width="1" height="17" fill="#c0c0c0"/>
<rect x="970" y="662" width="1" height="22" fill="#c0c0c0"/>
<rect x="978" y="661" width="1" height="23" fill="#c0c0c0"/>
<rect x="986" y="659" width="1" height="25" fill="#c0c0c0"/>
<rect x="994" y="659" width="1" height="25" fill="#c0c0c0"/>
<rect x="1002" y="660" width="1" height="24" fill="#c0c0c0"/>
<rect x="1010" y="662" width="1" height="22" fill="#c0c0c0"/>
<rect x="1018" y="664" width="1" height="20" fill="#c0c0c0"/>
<rect x="1026" y="666" width="1" height="18" fill="#c0c0c0"/>
<rect x="1034" y="664" width="1" height="20" fill="#c0c0c0"/>
<rect x="1042" y="664" width="1" height="20" fill="#c0c0c0"/>
<rect x="1050" y="662" width="1" height="22" fill="#c0c0c0"/>
<rect x="1058" y="662" width="1" height="22" fill="#c0c0c0"/>
<rect x="1066" y="661" width="1" height="23" fill="#c0c0c0"/>
<rect x="1074" y="661" width="1" height="23" fill="#c0c0c0"/>
<rect x="1082" y="662" width="1" height="22" fill="#c0c0c0"/>
<rect x="1090" y="663" width="1" height="21" fill="#c0c0c0"/>
<rect x="1098" y="661" width="1" height="23" fill="#c0c0c0"/>
<rect x="1106" y="660" width="1" height="24" fill="#c0c0c0"/>
<rect x="1114" y="659" width="1" height="25" fill="#c0c0c0"/>
<rect x="1122" y="659" width="1" height="25" fill="#c0c0c0"/>
<rect x="1130" y="659" width="1" height="25" fill="#c0c0c0"/>
<rect x="1138" y="660" width="1" height="24" fill="#c0c0c0"/>
<rect x="1146" y="662" width="1" height="22" fill="#c0c0c0"/>
<rect x="1154" y="661" width="1" height="23" fill="#c0c0c0"/>
<rect x="1162" y="661" width="1" height="23" fill="#c0c0c0"/>
<rect x="1170" y="661" width="1" height="23" fill="#c0c0c0"/>
<rect x="1178" y="661" width="1" height="23" fill="#c0c0c0"/>
<rect x="1186" y="660" width="1" height="24" fill="#c0c0c0"/>
<rect x="1194" y="661" width="1" height="23" fill="#c0c0c0"/>
<rect x="1202" y="661" width="1" height="23" fill="#c0c0c0"/>
<rect x="1210" y="658" width="1" height="26" fill="#c0c0c0"/>
<rect x="1218" y="655" width="1" height="29" fill="#c0c0c0"/>
<rect x="1226" y="655" width="1" height="29" fill="#c0c0c0"/>
<rect x="1234" y="655" width="1" height="29" fill="#c0c0c0"/>
<rect x="1242" y="656" width="1" height="28" fill="#c0c0c0"/>
<rect x="1250" y="657" width="1" height="27" fill="#c0c0c0"/>
<rect x="1258" y="658" width="1" height="26" fill="#c0c0c0"/>
<rect x="1266" y="659" width="1" height="25" fill="#c0c0c0"/>
<rect x="1274" y="662" width="1" height="22" fill="#c0c0c0"/>
<rect x="1282" y="664" width="1" height="20" fill="#c0c0c0"/>
<rect x="1290" y="666" width="1" height="18" fill="#c0c0c0"/>
<rect x="1298" y="669" width="1" height="15" fill="#c0c0c0"/>
<rect x="1306" y="670" width="1" height="14" fill="#c0c0c0"/>
<rect x="1314" y="671" width="1" height="13" fill="#c0c0c0"/>
<rect x="1322" y="670" width="1" height="14" fill="#c0c0c0"/>
<rect x="1330" y="670" width="1" height="14" fill="#c0c0c0"/>
<rect x="1338" y="672" width="1" height="12" fill="#c0c0c0"/>
<rect x="1346" y="673" width="1" height="11" fill="#c0c0c0"/>
<rect x="1354" y="675" width="1" height="9" fill="#c0c0c0"/>
<rect x="1362" y="677" width="1" height="7" fill="#c0c0c0"/>
<rect x="1370" y="678" width="1" height="6" fill="#c0c0c0"/>
<rect x="1378" y="678" width="1" height="6" fill="#c0c0c0"/>
<rect x="1386" y="675" width="1" height="9" fill="#c0c0c0"/>
<rect x="1394" y="675" width="1" height="9" fill="#c0c0c0"/>
<rect x="1402" y="675" width="1" height="9" fill="#c0c0c0"/>
<rect x="1410" y="675" width="1" height="9" fill="#c0c0c0"/>
<line x1="3" y1="684.5" x2="1627" y2="684.5" stroke="#808080"/>
<polyline points="2.5,723.1 10.5,725.6 18.5,726.3 26.5,726.3 34.5,726.1 42.5,724.8 50.5,723.1 58.5,719.8 66.5,716.8 74.5,714.3 82.5,713.0 90.5,710.5 98.5,707.2 106.5,703.0 114.5,698.9 122.5,695.4 130.5,692.2 138.5,689.1 146.5,686.4 154.5,684.1 162.5,682.9 170.5,682.6 178.5,682.6 186.5,683.9 194.5,685.4 202.5,686.6 210.5,687.9 218.5,689.6 226.5,690.9 234.5,692.2 242.5,692.9 250.5,692.9 258.5,692.7 266.5,692.4 274.5,691.9 282.5,691.7 290.5,691.4 298.5,690.9 306.5,690.1 314.5,688.9 322.5,687.6 330.5,686.4 338.5,685.1 346.5,684.1 354.5,683.4 362.5,682.1 370.5,680.8 378.5,680.3 386.5,680.1 394.5,680.1 402.5,681.3 410.5,682.1 418.5,682.6 426.5,683.8 434.5,683.8 442.5,683.3 450.5,682.5 458.5,681.5 466.5,680.0 474.5,677.5 482.5,675.0 490.5,673.0 498.5,670.8 506.5,668.8 514.5,667.0 522.5,666.5 530.5,666.5 538.5,666.5 546.5,666.5 554.5,666.8 562.5,667.3 570.5,667.5 578.5,667.5 586.5,667.5 594.5,667.5 602.5,667.5 610.5,668.3 618.5,669.5 626.5,670.0 634.5,671.3 642.5,672.5 650.5,674.5 658.5,675.5 666.5,676.5 674.5,677.3 682.5,677.5 690.5,678.3 698.5,679.3 706.5,679.5 714.5,680.5 722.5,680.8 730.5,681.5 738.5,681.8 746.5,682.0 754.5,682.5 762.5,683.3 770.5,683.5 778.5,683.5 786.5,683.5 794.5,683.5 802.5,683.5 810.5,683.5 818.5,683.5 826.5,683.5 834.5,683.5" stroke="#ff0000" stroke-width="1" stroke-dasharray="3 3"/>
<polyline points="898.5,683.8 906.5,682.5 914.5,681.3 922.5,680.8 930.5,680.5 938.5,680.5 946.5,679.5 954.5,678.8 962.5,677.0 970.5,675.5 978.5,674.3 986.5,672.5 994.5,669.3 1002.5,667.0 1010.5,665.8 1018.5,663.3 1026.5,662.5 1034.5,662.5 1042.5,662.5 1050.5,662.5 1058.5,663.3 1066.5,663.3 1074.5,663.3 1082.5,663.3 1090.5,663.3 1098.5,662.5 1106.5,662.5 1114.5,661.5 1122.5,661.5 1130.5,661.5 1138.5,661.5 1146.5,661.5 1154.5,661.5 1162.5,661.5 1170.5,661.5 1178.5,661.5 1186.5,661.5 1194.5,662.5 1202.5,662.5 1210.5,662.0 1218.5,661.3 1226.5,660.0 1234.5,659.3 1242.5,658.3 1250.5,658.3 1258.5,657.5 1266.5,657.5 1274.5,657.5 1282.5,658.3 1290.5,659.5 1298.5,661.5 1306.5,662.5 1314.5,663.8 1322.5,665.0 1330.5,667.0 1338.5,668.3 1346.5,669.0 1354.5,671.3 1362.5,672.5 1370.5,673.3 1378.5,674.3 1386.5,674.5 1394.5,675.3 1402.5,675.5 1410.5,675.5" stroke="#ff0000" stroke-width="1" stroke-dasharray="3 3"/>
</g>
<g clip-path="url(#c2)" shape-rendering="crispEdges" fill="none">
<line x1="2" y1="761.5" x2="1627" y2="761.5" stroke="#c0c0c0" stroke-dasharray="3 3"/>
<line x1="2" y1="776.5" x2="1627" y2="776.5" stroke="#c0c0c0" stroke-dasharray="3 3"/>
<line x1="2" y1="792.5" x2="1627" y2="792.5" stroke="#c0c0c0" stroke-dasharray="3 3"/>
<polyline points="2.5,783.3 10.5,785.5 18.5,781.3 26.5,785.5 34.5,784.3 42.5,782.0 50.5,775.5 58.5,776.3 66.5,779.5 74.5,783.3 82.5,778.8 90.5,773.8 98.5,774.3 106.5,768.3 114.5,771.3 122.5,772.5 130.5,775.5 138.5,775.5 146.5,778.3 154.5,778.3 162.5,781.5 170.5,780.5 178.5,783.3 186.5,782.0 194.5,777.5 202.5,776.3 210.5,778.0 218.5,779.5 226.5,782.5 234.5,778.3 242.5,781.5 250.5,780.0 258.5,775.5 266.5,776.3 274.5,775.5 282.5,776.8 290.5,779.3 298.5,777.5 306.5,775.5 314.5,773.8 322.5,774.5 330.5,773.3 338.5,770.5 346.5,770.5 354.5,776.3 362.5,775.5 370.5,778.3 378.5,777.5 386.5,780.5 394.5,782.5 402.5,781.3 410.5,775.5 418.5,776.8 426.5,770.8 434.5,769.3 442.5,770.0 450.5,770.0 458.5,766.8 466.5,765.5 474.5,762.5 482.5,768.0 490.5,765.5 498.5,764.5 506.5,772.5 514.5,775.5 522.5,776.3 530.5,774.5 538.5,771.3 546.5,768.3 554.5,768.3 562.5,765.0 570.5,761.3 578.5,775.8 586.5,777.0 594.5,775.0 602.5,776.3 610.5,777.0 618.5,775.0 626.5,773.3 634.5,774.3 642.5,776.3 650.5,775.5 658.5,777.3 666.5,774.3 674.5,775.5 682.5,777.0 690.5,772.5 698.5,779.3 706.5,775.5 714.5,777.5 722.5,777.5 730.5,779.5 738.5,778.3 746.5,778.3 754.5,772.5 762.5,773.3 770.5,771.5 778.5,777.0 786.5,777.0 794.5,777.0 802.5,777.0 810.5,778.3 818.5,775.5 826.5,777.5 834.5,782.0 842.5,778.8 850.5,773.8 858.5,773.8 866.5,775.5 874.5,776.3 882.5,768.8 890.5,765.5 898.5,767.5 906.5,773.0 914.5,777.0 922.5,781.3 930.5,780.5 938.5,778.3 946.5,766.3 954.5,762.5 962.5,760.5 970.5,759.5 978.5,769.3 986.5,766.8 994.5,768.3 1002.5,771.3 1010.5,774.5 1018.5,773.3 1026.5,772.0 1034.5,768.3 1042.5,768.3 1050.5,766.3 1058.5,765.5 1066.5,765.5 1074.5,766.8 1082.5,771.3 1090.5,768.3 1098.5,764.5 1106.5,764.5 1114.5,763.8 1122.5,767.5 1130.5,765.5 1138.5,771.5 1146.5,770.5 1154.5,767.5 1162.5,767.5 1170.5,765.5 1178.5,766.8 1186.5,766.3 1194.5,764.5 1202.5,762.5 1210.5,757.5 1218.5,757.5 1226.5,764.3 1234.5,763.8 1242.5,768.3 1250.5,766.5 1258.5,767.5 1266.5,768.8 1274.5,773.3 1282.5,771.8 1290.5,774.5 1298.5,775.5 1306.5,774.5 1314.5,771.3 1322.5,766.8 1330.5,772.0 1338.5,774.0 1346.5,773.3 1354.5,777.5 1362.5,779.5 1370.5,774.5 1378.5,775.5 1386.5,766.5 1394.5,770.0 1402.5,774.5 1410.5,775.5" stroke="#ff4500" stroke-width="1" stroke-linejoin="round"/>
</g>
<g clip-path="url(#c3)" shape-rendering="crispEdges" fill="none">
<line x1="2" y1="833.5" x2="1627" y2="833.5" stroke="#c0c0c0" stroke-dasharray="3 3"/>
<line x1="2" y1="879.5" x2="1627" y2="879.5" stroke="#c0c0c0" stroke-dasharray="3 3"/>
<polyline points="2.5,867.5 10.5,853.1 18.5,839.7 26.5,835.6 34.5,838.9 42.5,849.6 50.5,852.1 58.5,848.3 66.5,842.4 74.5,847.4 82.5,858.9 90.5,863.9 98.5,856.4 106.5,841.5 114.5,831.7 122.5,828.9 130.5,836.6 138.5,849.4 146.5,866.4 154.5,878.2 162.5,885.1 170.5,884.2 178.5,882.6 186.5,879.8 194.5,876.3 202.5,864.7 210.5,851.5 218.5,845.7 226.5,852.9 234.5,863.3 242.5,872.5 250.5,873.9 258.5,870.6 266.5,856.1 274.5,842.4 282.5,833.9 290.5,838.9 298.5,848.8 306.5,856.8 314.5,853.4 322.5,843.5 330.5,832.9 338.5,828.5 346.5,831.7 354.5,841.4 362.5,856.4 370.5,870.6 378.5,878.5 386.5,881.6 394.5,880.7 402.5,879.6 410.5,871.8 418.5,860.1 426.5,844.6 434.5,835.3 442.5,830.1 450.5,831.7 458.5,832.1 466.5,831.8 474.5,827.1 482.5,827.4 490.5,829.8 498.5,835.4 506.5,839.9 514.5,849.7 522.5,865.0 530.5,876.1 538.5,876.1 546.5,862.2 554.5,846.1 562.5,831.8 570.5,824.8 578.5,828.9 586.5,843.8 594.5,865.6 602.5,878.9 610.5,883.8 618.5,880.6 626.5,873.6 634.5,858.6 642.5,848.5 650.5,844.9 658.5,851.9 666.5,852.5 674.5,850.9 682.5,845.9 690.5,841.9 698.5,844.1 706.5,848.2 714.5,858.6 722.5,861.7 730.5,867.1 738.5,869.3 746.5,873.9 754.5,869.3 762.5,861.6 770.5,850.6 778.5,849.2 786.5,852.9 794.5,862.0 802.5,866.2 810.5,866.3 818.5,861.8 826.5,858.2 834.5,857.8 842.5,859.6 850.5,858.8 858.5,850.0 866.5,838.9 874.5,832.4 882.5,831.3 890.5,830.4 898.5,827.5 906.5,829.2 914.5,839.2 922.5,856.1 930.5,871.1 938.5,878.3 946.5,871.4 954.5,854.7 962.5,835.7 970.5,824.8 978.5,824.5 986.5,829.3 994.5,840.6 1002.5,851.9 1010.5,868.1 1018.5,876.4 1026.5,878.9 1034.5,868.3 1042.5,854.2 1050.5,838.1 1058.5,828.3 1066.5,823.2 1074.5,823.5 1082.5,829.1 1090.5,839.9 1098.5,847.1 1106.5,844.6 1114.5,835.4 1122.5,830.3 1130.5,830.0 1138.5,836.5 1146.5,844.9 1154.5,854.8 1162.5,854.2 1170.5,845.8 1178.5,836.1 1186.5,832.6 1194.5,833.8 1202.5,833.6 1210.5,829.9 1218.5,826.5 1226.5,826.5 1234.5,831.9 1242.5,842.1 1250.5,851.6 1258.5,861.8 1266.5,866.3 1274.5,869.4 1282.5,867.1 1290.5,865.8 1298.5,864.7 1306.5,865.7 1314.5,861.2 1322.5,849.8 1330.5,838.4 1338.5,836.0 1346.5,843.3 1354.5,854.3 1362.5,865.2 1370.5,871.0 1378.5,869.3 1386.5,854.4 1394.5,840.7 1402.5,832.7 1410.5,839.3" stroke="#ff0000" stroke-width="1" stroke-dasharray="3 3"/>
<polyline points="2.5,852.5 10.5,838.3 18.5,828.3 26.5,840.0 34.5,848.3 42.5,860.3 50.5,847.5 58.5,837.2 66.5,842.5 74.5,862.5 82.5,871.7 90.5,857.5 98.5,840.0 106.5,827.0 114.5,828.0 122.5,831.7 130.5,850.0 138.5,866.7 146.5,882.5 154.5,885.3 162.5,887.5 170.5,879.7 178.5,880.5 186.5,879.2 194.5,869.2 202.5,845.8 210.5,839.5 218.5,851.7 226.5,867.5 234.5,870.8 242.5,879.2 250.5,871.7 258.5,860.8 266.5,835.8 274.5,830.5 282.5,835.3 290.5,850.8 298.5,860.3 306.5,859.2 314.5,840.8 322.5,830.5 330.5,827.5 338.5,827.5 346.5,840.0 354.5,856.7 362.5,872.5 370.5,882.5 378.5,880.5 386.5,881.7 394.5,880.0 402.5,877.0 410.5,858.3 418.5,845.0 426.5,830.5 434.5,830.5 442.5,829.2 450.5,835.5 458.5,831.7 466.5,828.3 474.5,821.3 482.5,832.5 490.5,835.5 498.5,838.3 506.5,845.8 514.5,865.0 522.5,884.2 530.5,879.2 538.5,865.0 546.5,842.5 554.5,830.8 562.5,822.2 570.5,821.3 578.5,843.3 586.5,866.7 594.5,886.7 602.5,883.3 610.5,881.3 618.5,877.0 626.5,862.5 634.5,836.3 642.5,846.7 650.5,851.7 658.5,857.5 666.5,848.3 674.5,847.0 682.5,842.5 690.5,836.3 698.5,853.3 706.5,855.0 714.5,867.5 722.5,862.5 730.5,871.3 738.5,874.2 746.5,876.3 754.5,857.5 762.5,850.8 770.5,843.3 778.5,853.3 786.5,862.2 794.5,870.5 802.5,865.8 810.5,862.5 818.5,857.0 826.5,855.0 834.5,861.3 842.5,862.5 850.5,852.5 858.5,835.0 866.5,829.2 874.5,833.0 882.5,831.7 890.5,826.7 898.5,824.2 906.5,836.7 914.5,856.7 922.5,875.0 930.5,881.7 938.5,878.3 946.5,854.2 954.5,831.7 962.5,821.3 970.5,821.3 978.5,830.8 986.5,835.8 994.5,855.0 1002.5,865.0 1010.5,884.2 1018.5,880.0 1026.5,872.5 1034.5,852.5 1042.5,837.5 1050.5,824.2 1058.5,823.3 1066.5,822.2 1074.5,825.0 1082.5,840.0 1090.5,854.7 1098.5,846.7 1106.5,832.5 1114.5,827.2 1122.5,831.2 1130.5,831.7 1138.5,846.7 1146.5,856.3 1154.5,861.3 1162.5,845.0 1170.5,831.2 1178.5,832.2 1186.5,834.5 1194.5,834.7 1202.5,831.7 1210.5,823.3 1218.5,824.5 1226.5,831.7 1234.5,839.7 1242.5,855.0 1250.5,860.0 1258.5,870.5 1266.5,868.3 1274.5,869.5 1282.5,863.3 1290.5,864.5 1298.5,866.3 1306.5,866.3 1314.5,850.8 1322.5,832.2 1330.5,832.2 1338.5,843.7 1346.5,854.2 1354.5,865.0 1362.5,876.3 1370.5,871.7 1378.5,860.0 1386.5,831.7 1394.5,830.5 1402.5,835.8 1410.5,851.7" stroke="#20b2aa" stroke-width="1"/>
</g>
<g shape-rendering="crispEdges" fill="#000">
<rect x="2" y="2" width="1" height="644"/>
<rect x="2" y="647" width="1" height="89"/>
<rect x="2" y="737" width="1" height="79"/>
<rect x="2" y="818" width="1" height="77"/>
<rect x="1627" y="2" width="1" height="893"/>
<rect x="2" y="2" width="1626" height="1"/>
<rect x="2" y="645" width="1626" height="1"/>
<rect x="2" y="647" width="1626" height="1"/>
<rect x="2" y="735" width="1626" height="1"/>
<rect x="2" y="737" width="1626" height="1"/>
<rect x="2" y="815" width="1626" height="1"/>
<rect x="2" y="818" width="1626" height="1"/>
<rect x="2" y="894" width="1626" height="1"/>
<rect x="2" y="894" width="1" height="5"/>
<rect x="66" y="894" width="1" height="5"/>
<rect x="130" y="894" width="1" height="5"/>
<rect x="194" y="894" width="1" height="5"/>
<rect x="258" y="894" width="1" height="5"/>
<rect x="322" y="894" width="1" height="5"/>
<rect x="386" y="894" width="1" height="5"/>
<rect x="450" y="894" width="1" height="5"/>
<rect x="514" y="894" width="1" height="5"/>
<rect x="578" y="894" width="1" height="5"/>
<rect x="642" y="894" width="1" height="5"/>
<rect x="706" y="894" width="1" height="5"/>
<rect x="770" y="894" width="1" height="5"/>
<rect x="834" y="894" width="1" height="5"/>
<rect x="898" y="894" width="1" height="5"/>
<rect x="962" y="894" width="1" height="5"/>
<rect x="1026" y="894" width="1" height="5"/>
<rect x="1090" y="894" width="1" height="5"/>
<rect x="1154" y="894" width="1" height="5"/>
<rect x="1218" y="894" width="1" height="5"/>
<rect x="1282" y="894" width="1" height="5"/>
<rect x="1346" y="894" width="1" height="5"/>
<rect x="1410" y="894" width="1" height="5"/>
</g>
<g shape-rendering="crispEdges" fill="#000">
<rect x="1628" y="3" width="4" height="1"/>
<rect x="1628" y="35" width="4" height="1"/>
<rect x="1628" y="67" width="4" height="1"/>
<rect x="1628" y="99" width="4" height="1"/>
<rect x="1628" y="131" width="4" height="1"/>
<rect x="1628" y="163" width="4" height="1"/>
<rect x="1628" y="196" width="4" height="1"/>
<rect x="1628" y="228" width="4" height="1"/>
<rect x="1628" y="260" width="4" height="1"/>
<rect x="1628" y="292" width="4" height="1"/>
<rect x="1628" y="324" width="4" height="1"/>
<rect x="1628" y="356" width="4" height="1"/>
<rect x="1628" y="388" width="4" height="1"/>
<rect x="1628" y="420" width="4" height="1"/>
<rect x="1628" y="452" width="4" height="1"/>
<rect x="1628" y="484" width="4" height="1"/>
<rect x="1628" y="517" width="4" height="1"/>
<rect x="1628" y="549" width="4" height="1"/>
<rect x="1628" y="581" width="4" height="1"/>
<rect x="1628" y="613" width="4" height="1"/>
<rect x="1628" y="647" width="4" height="1"/>
<rect x="1628" y="684" width="4" height="1"/>
<rect x="1628" y="735" width="4" height="1"/>
<rect x="1628" y="737" width="4" height="1"/>
<rect x="1628" y="761" width="4" height="1"/>
<rect x="1628" y="776" width="4" height="1"/>
<rect x="1628" y="792" width="4" height="1"/>
<rect x="1628" y="815" width="4" height="1"/>
<rect x="1628" y="818" width="4" height="1"/>
<rect x="1628" y="833" width="4" height="1"/>
<rect x="1628" y="879" width="4" height="1"/>
<rect x="1628" y="894" width="4" height="1"/>
</g>
<g font-family="'DejaVu Sans Condensed', 'DejaVu Sans', 'Liberation Sans', sans-serif" font-size="9.2px" xml:space="preserve" transform="scale(1 1.0)">
<text x="1633.5" y="7.20" fill="#000" stroke="#000" stroke-width="0.12" textLength="31.5" lengthAdjust="spacingAndGlyphs">159.970</text>
<text x="1633.5" y="103.20" fill="#000" stroke="#000" stroke-width="0.12" textLength="31.5" lengthAdjust="spacingAndGlyphs">156.895</text>
<text x="1633.5" y="167.20" fill="#000" stroke="#000" stroke-width="0.12" textLength="31.5" lengthAdjust="spacingAndGlyphs">154.845</text>
<text x="1633.5" y="200.20" fill="#000" stroke="#000" stroke-width="0.12" textLength="31.5" lengthAdjust="spacingAndGlyphs">153.820</text>
<text x="1633.5" y="264.20" fill="#000" stroke="#000" stroke-width="0.12" textLength="31.5" lengthAdjust="spacingAndGlyphs">151.770</text>
<text x="1633.5" y="296.20" fill="#000" stroke="#000" stroke-width="0.12" textLength="31.5" lengthAdjust="spacingAndGlyphs">150.745</text>
<text x="1633.5" y="328.20" fill="#000" stroke="#000" stroke-width="0.12" textLength="31.5" lengthAdjust="spacingAndGlyphs">149.720</text>
<text x="1633.5" y="360.20" fill="#000" stroke="#000" stroke-width="0.12" textLength="31.5" lengthAdjust="spacingAndGlyphs">148.695</text>
<text x="1633.5" y="392.20" fill="#000" stroke="#000" stroke-width="0.12" textLength="31.5" lengthAdjust="spacingAndGlyphs">147.670</text>
<text x="1633.5" y="424.20" fill="#000" stroke="#000" stroke-width="0.12" textLength="31.5" lengthAdjust="spacingAndGlyphs">146.645</text>
<text x="1633.5" y="456.20" fill="#000" stroke="#000" stroke-width="0.12" textLength="31.5" lengthAdjust="spacingAndGlyphs">145.620</text>
<text x="1633.5" y="488.20" fill="#000" stroke="#000" stroke-width="0.12" textLength="31.5" lengthAdjust="spacingAndGlyphs">144.595</text>
<text x="1633.5" y="521.20" fill="#000" stroke="#000" stroke-width="0.12" textLength="31.5" lengthAdjust="spacingAndGlyphs">143.570</text>
<text x="1633.5" y="553.20" fill="#000" stroke="#000" stroke-width="0.12" textLength="31.5" lengthAdjust="spacingAndGlyphs">142.545</text>
<text x="1633.5" y="585.20" fill="#000" stroke="#000" stroke-width="0.12" textLength="31.5" lengthAdjust="spacingAndGlyphs">141.520</text>
<text x="1633.5" y="617.20" fill="#000" stroke="#000" stroke-width="0.12" textLength="31.5" lengthAdjust="spacingAndGlyphs">140.495</text>
<text x="1633" y="656.30" fill="#000" stroke="#000" stroke-width="0.12" textLength="27.5" lengthAdjust="spacingAndGlyphs">1.7019</text>
<text x="1633" y="688.00" fill="#000" stroke="#000" stroke-width="0.12" textLength="27.5" lengthAdjust="spacingAndGlyphs">0.0000</text>
<text x="1633" y="733.30" fill="#000" stroke="#000" stroke-width="0.12" textLength="30" lengthAdjust="spacingAndGlyphs">-2.3156</text>
<text x="1633" y="746.40" fill="#000" stroke="#000" stroke-width="0.12" textLength="27.5" lengthAdjust="spacingAndGlyphs">100.00</text>
<text x="1633" y="765.00" fill="#000" stroke="#000" stroke-width="0.12" textLength="22.5" lengthAdjust="spacingAndGlyphs">70.00</text>
<text x="1633" y="780.00" fill="#000" stroke="#000" stroke-width="0.12" textLength="22.5" lengthAdjust="spacingAndGlyphs">50.00</text>
<text x="1633" y="796.00" fill="#000" stroke="#000" stroke-width="0.12" textLength="22.5" lengthAdjust="spacingAndGlyphs">30.00</text>
<text x="1633" y="814.00" fill="#000" stroke="#000" stroke-width="0.12" textLength="18" lengthAdjust="spacingAndGlyphs">0.00</text>
<text x="1633" y="827.00" fill="#000" stroke="#000" stroke-width="0.12" textLength="27.5" lengthAdjust="spacingAndGlyphs">100.00</text>
<text x="1633" y="837.00" fill="#000" stroke="#000" stroke-width="0.12" textLength="22.5" lengthAdjust="spacingAndGlyphs">80.00</text>
<text x="1633" y="883.00" fill="#000" stroke="#000" stroke-width="0.12" textLength="22.5" lengthAdjust="spacingAndGlyphs">20.00</text>
<text x="1633" y="892.30" fill="#000" stroke="#000" stroke-width="0.12" textLength="18" lengthAdjust="spacingAndGlyphs">0.00</text>
</g>
<g shape-rendering="crispEdges">
<rect x="1630" y="124" width="39" height="11" fill="#ff0000"/>
</g>
<g font-family="'DejaVu Sans Condensed', 'DejaVu Sans', 'Liberation Sans', sans-serif" font-size="9.2px" transform="scale(1 1.0)">
<text x="1633.5" y="133.50" fill="#fff" stroke="#fff" stroke-width="0.06" textLength="31.5" lengthAdjust="spacingAndGlyphs">155.949</text>
</g>
<g shape-rendering="crispEdges">
<rect x="1630" y="32" width="39" height="11" fill="#000"/>
<rect x="1630" y="63" width="39" height="11" fill="#000"/>
<rect x="1630" y="119" width="39" height="11" fill="#000"/>
<rect x="1630" y="165" width="39" height="11" fill="#000"/>
<rect x="1630" y="197" width="39" height="11" fill="#000"/>
<rect x="1630" y="225" width="39" height="11" fill="#000"/>
<rect x="1630" y="248" width="39" height="11" fill="#000"/>
<rect x="1630" y="326" width="39" height="11" fill="#000"/>
<rect x="1630" y="357" width="39" height="11" fill="#000"/>
<rect x="1630" y="435" width="39" height="11" fill="#000"/>
<rect x="1630" y="540" width="39" height="11" fill="#000"/>
<rect x="1630" y="628" width="39" height="11" fill="#000"/>
</g>
<g font-family="'DejaVu Sans Condensed', 'DejaVu Sans', 'Liberation Sans', sans-serif" font-size="9.2px" xml:space="preserve" transform="scale(1 1.0)">
<text x="1633.5" y="41.20" fill="#fff" stroke="#fff" stroke-width="0.06" textLength="31.5" lengthAdjust="spacingAndGlyphs">158.870</text>
<text x="1633.5" y="72.20" fill="#fff" stroke="#fff" stroke-width="0.06" textLength="31.5" lengthAdjust="spacingAndGlyphs">157.900</text>
<text x="1633.5" y="128.20" fill="#fff" stroke="#fff" stroke-width="0.06" textLength="31.5" lengthAdjust="spacingAndGlyphs">156.100</text>
<text x="1633.5" y="174.20" fill="#fff" stroke="#fff" stroke-width="0.06" textLength="31.5" lengthAdjust="spacingAndGlyphs">154.650</text>
<text x="1633.5" y="206.20" fill="#fff" stroke="#fff" stroke-width="0.06" textLength="31.5" lengthAdjust="spacingAndGlyphs">153.600</text>
<text x="1633.5" y="234.20" fill="#fff" stroke="#fff" stroke-width="0.06" textLength="31.5" lengthAdjust="spacingAndGlyphs">152.731</text>
<text x="1633.5" y="257.20" fill="#fff" stroke="#fff" stroke-width="0.06" textLength="31.5" lengthAdjust="spacingAndGlyphs">152.000</text>
<text x="1633.5" y="335.20" fill="#fff" stroke="#fff" stroke-width="0.06" textLength="31.5" lengthAdjust="spacingAndGlyphs">149.500</text>
<text x="1633.5" y="366.20" fill="#fff" stroke="#fff" stroke-width="0.06" textLength="31.5" lengthAdjust="spacingAndGlyphs">148.500</text>
<text x="1633.5" y="444.20" fill="#fff" stroke="#fff" stroke-width="0.06" textLength="31.5" lengthAdjust="spacingAndGlyphs">146.000</text>
<text x="1633.5" y="549.20" fill="#fff" stroke="#fff" stroke-width="0.06" textLength="31.5" lengthAdjust="spacingAndGlyphs">142.650</text>
<text x="1633.5" y="637.20" fill="#fff" stroke="#fff" stroke-width="0.06" textLength="31.5" lengthAdjust="spacingAndGlyphs">139.869</text>
<rect x="5" y="823.00" width="103" height="10.00" fill="#fff"/>
<text x="6" y="13.00" fill="#000" stroke="#000" stroke-width="0.12" textLength="186" lengthAdjust="spacingAndGlyphs">USDJPY, Daily:&#160;&#160;US Dollar vs Japanese Yen</text>
<text x="5.5" y="660.00" fill="#000" stroke="#000" stroke-width="0.12" textLength="127.5" lengthAdjust="spacingAndGlyphs">MACD(12,26,9) 0.4197 0.4076</text>
<text x="5.5" y="750.00" fill="#000" stroke="#000" stroke-width="0.12" textLength="58" lengthAdjust="spacingAndGlyphs">RSI(14) 52.10</text>
<text x="5.5" y="831.00" fill="#000" stroke="#000" stroke-width="0.12" textLength="101.5" lengthAdjust="spacingAndGlyphs">Stoch(5,3,3) 54.89 71.72</text>
<text x="1.3" y="907.00" fill="#000" stroke="#000" stroke-width="0.12" textLength="51.0" lengthAdjust="spacingAndGlyphs">23 Apr 2025</text>
<text x="65.3" y="907.00" fill="#000" stroke="#000" stroke-width="0.12" textLength="50.3" lengthAdjust="spacingAndGlyphs">5 May 2025</text>
<text x="129.3" y="907.00" fill="#000" stroke="#000" stroke-width="0.12" textLength="54.699999999999996" lengthAdjust="spacingAndGlyphs">15 May 2025</text>
<text x="193.3" y="907.00" fill="#000" stroke="#000" stroke-width="0.12" textLength="55.3" lengthAdjust="spacingAndGlyphs">27 May 2025</text>
<text x="257.3" y="907.00" fill="#000" stroke="#000" stroke-width="0.12" textLength="45.3" lengthAdjust="spacingAndGlyphs">6 Jun 2025</text>
<text x="321.3" y="907.00" fill="#000" stroke="#000" stroke-width="0.12" textLength="49.5" lengthAdjust="spacingAndGlyphs">18 Jun 2025</text>
<text x="385.3" y="907.00" fill="#000" stroke="#000" stroke-width="0.12" textLength="49.599999999999994" lengthAdjust="spacingAndGlyphs">30 Jun 2025</text>
<text x="449.3" y="907.00" fill="#000" stroke="#000" stroke-width="0.12" textLength="46.5" lengthAdjust="spacingAndGlyphs">10 Jul 2025</text>
<text x="513.3" y="907.00" fill="#000" stroke="#000" stroke-width="0.12" textLength="46.5" lengthAdjust="spacingAndGlyphs">22 Jul 2025</text>
<text x="577.3" y="907.00" fill="#000" stroke="#000" stroke-width="0.12" textLength="47.099999999999994" lengthAdjust="spacingAndGlyphs">1 Aug 2025</text>
<text x="641.3" y="907.00" fill="#000" stroke="#000" stroke-width="0.12" textLength="52.5" lengthAdjust="spacingAndGlyphs">13 Aug 2025</text>
<text x="705.3" y="907.00" fill="#000" stroke="#000" stroke-width="0.12" textLength="52.599999999999994" lengthAdjust="spacingAndGlyphs">25 Aug 2025</text>
<text x="769.3" y="907.00" fill="#000" stroke="#000" stroke-width="0.12" textLength="46.599999999999994" lengthAdjust="spacingAndGlyphs">4 Sep 2025</text>
<text x="833.3" y="907.00" fill="#000" stroke="#000" stroke-width="0.12" textLength="51.3" lengthAdjust="spacingAndGlyphs">16 Sep 2025</text>
<text x="897.3" y="907.00" fill="#000" stroke="#000" stroke-width="0.12" textLength="51.8" lengthAdjust="spacingAndGlyphs">26 Sep 2025</text>
<text x="961.3" y="907.00" fill="#000" stroke="#000" stroke-width="0.12" textLength="46.3" lengthAdjust="spacingAndGlyphs">8 Oct 2025</text>
<text x="1025.3" y="907.00" fill="#000" stroke="#000" stroke-width="0.12" textLength="50.8" lengthAdjust="spacingAndGlyphs">20 Oct 2025</text>
<text x="1089.3" y="907.00" fill="#000" stroke="#000" stroke-width="0.12" textLength="50.8" lengthAdjust="spacingAndGlyphs">29 Oct 2025</text>
<text x="1153.3" y="907.00" fill="#000" stroke="#000" stroke-width="0.12" textLength="53.8" lengthAdjust="spacingAndGlyphs">10 Nov 2025</text>
<text x="1217.3" y="907.00" fill="#000" stroke="#000" stroke-width="0.12" textLength="53.599999999999994" lengthAdjust="spacingAndGlyphs">20 Nov 2025</text>
<text x="1281.3" y="907.00" fill="#000" stroke="#000" stroke-width="0.12" textLength="47.099999999999994" lengthAdjust="spacingAndGlyphs">2 Dec 2025</text>
<text x="1345.3" y="907.00" fill="#000" stroke="#000" stroke-width="0.12" textLength="51.3" lengthAdjust="spacingAndGlyphs">12 Dec 2025</text>
<text x="1409.3" y="907.00" fill="#000" stroke="#000" stroke-width="0.12" textLength="52.0" lengthAdjust="spacingAndGlyphs">24 Dec 2025</text>
</g>
</svg>
</body></html>
